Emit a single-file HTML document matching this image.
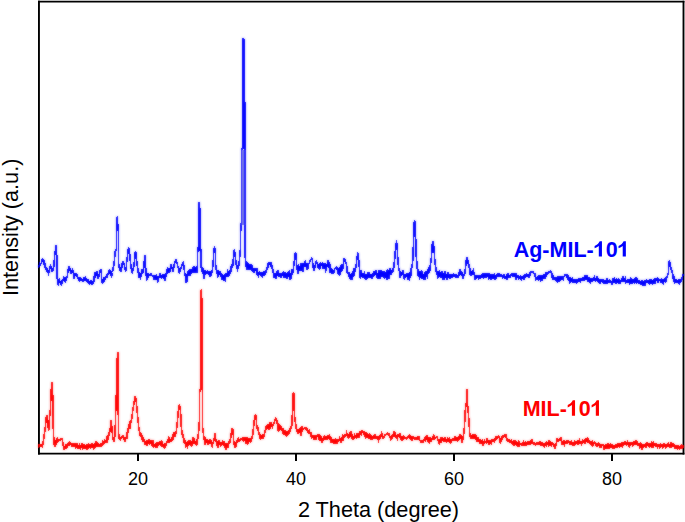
<!DOCTYPE html>
<html><head><meta charset="utf-8"><style>
html,body{margin:0;padding:0;background:#fff;}
svg{display:block;}
text{font-family:"Liberation Sans",sans-serif;}
</style></head><body>
<svg width="685" height="522" viewBox="0 0 685 522">
<defs><filter id="bl" x="-5%" y="-5%" width="110%" height="110%"><feGaussianBlur stdDeviation="0.8" result="b"/><feComposite in="SourceGraphic" in2="b" operator="arithmetic" k1="0" k2="0.5" k3="0.5" k4="0"/></filter></defs>
<rect width="685" height="522" fill="#fff"/>
<g stroke="#000" fill="none">
<line x1="38" y1="1.6" x2="684.4" y2="1.6" stroke-width="1.75"/>
<line x1="38" y1="453.66" x2="684.4" y2="453.66" stroke-width="1.82"/>
<line x1="38.95" y1="0.7" x2="38.95" y2="454.57" stroke-width="1.9"/>
<line x1="683.5" y1="0.7" x2="683.5" y2="454.57" stroke-width="1.86"/>
</g>
<g stroke="#000" stroke-width="2">
<line x1="138" y1="454" x2="138" y2="461"/>
<line x1="296" y1="454" x2="296" y2="461"/>
<line x1="454" y1="454" x2="454" y2="461"/>
<line x1="612" y1="454" x2="612" y2="461"/>
</g>
<g filter="url(#bl)">
<polyline fill="none" shape-rendering="crispEdges" stroke="#0000ff" stroke-width="1.6" stroke-linejoin="round" points="38.5,266.0 38.6,266.2 38.8,267.2 38.9,266.5 39.0,265.8 39.2,265.0 39.3,265.1 39.5,266.4 39.6,262.4 39.8,265.8 40.0,265.6 40.1,264.6 40.3,264.1 40.4,263.9 40.6,263.7 40.7,264.0 40.9,263.9 41.1,263.4 41.2,263.0 41.4,263.2 41.5,262.2 41.7,261.6 41.8,261.7 42.0,260.4 42.1,259.9 42.3,259.6 42.4,259.7 42.6,259.2 42.7,259.2 42.9,259.7 43.0,259.7 43.2,260.1 43.3,259.9 43.5,259.8 43.6,259.9 43.8,261.1 43.9,262.3 44.1,263.4 44.2,264.9 44.4,264.5 44.5,265.9 44.7,265.2 44.8,266.0 45.0,263.7 45.1,267.7 45.2,266.3 45.4,267.0 45.6,269.0 45.7,268.2 45.9,268.4 46.0,269.5 46.2,269.1 46.3,269.5 46.5,267.8 46.7,269.5 46.8,269.6 47.0,270.9 47.1,269.7 47.3,270.4 47.4,268.7 47.6,270.6 47.8,270.8 47.9,271.1 48.0,270.8 48.2,273.0 48.4,272.4 48.5,273.0 48.6,275.0 48.8,272.1 49.0,271.6 49.1,271.1 49.2,270.7 49.4,268.8 49.6,269.1 49.7,268.7 49.8,267.8 50.0,267.2 50.1,266.2 50.3,266.4 50.4,265.1 50.5,265.5 50.7,266.2 50.8,266.6 51.0,267.5 51.1,267.8 51.3,267.9 51.4,268.7 51.6,269.8 51.7,270.9 51.9,270.7 52.0,269.7 52.2,268.8 52.3,269.2 52.5,271.7 52.6,270.5 52.8,270.6 52.9,269.2 53.1,270.7 53.2,269.2 53.4,268.5 53.5,267.7 53.7,267.2 53.8,266.8 53.9,264.6 54.1,262.1 54.2,261.1 54.4,258.7 54.5,256.7 54.6,255.9 54.8,254.9 54.9,254.3 55.1,252.5 55.2,252.4 55.3,250.8 55.5,249.1 55.6,247.6 55.7,246.1 55.8,246.6 56.0,246.1 56.1,246.1 56.2,250.2 56.4,254.4 56.5,254.9 56.6,256.4 56.8,255.5 56.9,256.3 57.0,266.8 57.1,277.3 57.2,278.3 57.4,279.0 57.5,280.0 57.7,281.0 57.8,282.1 58.0,282.3 58.1,283.5 58.3,284.8 58.4,280.2 58.6,283.3 58.7,283.2 58.9,281.1 59.0,281.8 59.2,282.4 59.3,278.6 59.5,281.1 59.6,281.6 59.8,282.3 60.0,281.8 60.1,282.5 60.2,281.7 60.4,281.8 60.5,282.5 60.7,282.2 60.9,283.0 61.0,283.5 61.2,284.9 61.3,282.9 61.5,282.1 61.6,281.5 61.8,283.5 61.9,281.2 62.1,283.5 62.2,280.6 62.4,280.2 62.6,280.1 62.7,281.1 62.9,280.3 63.0,279.7 63.2,279.3 63.3,280.4 63.5,278.9 63.7,280.4 63.8,277.2 64.0,278.5 64.1,278.5 64.3,278.3 64.5,280.3 64.6,278.1 64.8,279.6 64.9,279.4 65.0,279.7 65.2,279.7 65.3,281.9 65.5,279.5 65.6,279.8 65.8,280.2 66.0,279.1 66.1,277.5 66.3,278.3 66.4,279.9 66.6,279.0 66.7,276.5 66.9,277.4 67.0,276.8 67.2,276.4 67.4,275.3 67.5,274.2 67.7,273.1 67.8,272.2 68.0,270.9 68.1,269.9 68.3,268.8 68.4,267.6 68.6,266.6 68.7,266.3 68.9,266.9 69.0,267.2 69.2,267.5 69.3,267.6 69.5,267.3 69.6,267.8 69.8,268.8 69.9,269.3 70.1,270.0 70.2,270.3 70.4,271.3 70.5,271.1 70.7,271.7 70.8,272.2 71.0,273.5 71.2,272.7 71.3,272.5 71.5,272.0 71.6,272.6 71.8,270.3 72.0,272.2 72.1,270.9 72.3,271.9 72.4,268.8 72.6,270.7 72.7,272.5 72.9,270.6 73.1,271.3 73.2,272.7 73.4,272.9 73.5,273.5 73.7,273.2 73.8,274.7 74.0,273.3 74.1,276.7 74.2,278.7 74.4,277.3 74.6,277.9 74.7,274.7 74.9,275.9 75.0,275.5 75.2,274.3 75.3,275.3 75.5,275.5 75.6,274.0 75.8,274.0 75.9,275.3 76.1,275.2 76.2,273.6 76.4,275.5 76.5,276.3 76.7,274.6 76.8,275.7 77.0,276.0 77.1,276.2 77.3,274.9 77.4,276.4 77.6,277.0 77.7,277.3 77.9,278.2 78.0,278.5 78.2,277.7 78.3,278.8 78.5,279.8 78.6,280.3 78.8,278.5 78.9,279.7 79.1,277.3 79.2,279.9 79.4,278.9 79.5,279.6 79.7,281.3 79.8,279.2 80.0,278.9 80.2,279.3 80.3,279.6 80.5,278.0 80.6,279.0 80.8,279.2 81.0,278.3 81.1,279.8 81.3,280.5 81.4,279.6 81.6,279.8 81.8,280.2 81.9,279.6 82.1,279.9 82.2,280.3 82.4,280.7 82.5,279.5 82.7,281.1 82.9,281.4 83.0,280.7 83.2,279.9 83.3,278.6 83.5,280.4 83.7,278.5 83.8,278.3 84.0,278.0 84.1,277.4 84.3,279.9 84.5,277.8 84.6,277.7 84.8,278.7 84.9,277.8 85.1,277.3 85.3,276.9 85.4,277.9 85.6,279.6 85.7,278.6 85.9,279.6 86.0,278.3 86.2,280.4 86.3,281.0 86.5,280.7 86.7,281.6 86.8,281.1 87.0,280.6 87.1,279.2 87.3,280.9 87.5,281.5 87.6,280.2 87.8,280.5 87.9,281.1 88.1,281.6 88.2,282.3 88.4,281.1 88.6,280.1 88.7,280.5 88.9,282.1 89.0,281.7 89.2,282.0 89.3,284.4 89.5,283.3 89.6,282.6 89.8,282.4 89.9,281.7 90.1,282.2 90.2,281.2 90.4,282.1 90.6,282.8 90.7,282.9 90.9,282.9 91.0,282.5 91.2,282.4 91.3,282.6 91.5,280.7 91.6,283.9 91.8,283.1 92.0,283.1 92.1,282.7 92.3,282.8 92.4,283.1 92.6,282.3 92.7,283.3 92.9,283.8 93.0,282.0 93.2,282.1 93.4,280.3 93.5,281.1 93.7,282.6 93.8,278.0 94.0,278.7 94.1,278.3 94.2,278.2 94.4,274.8 94.5,273.8 94.7,274.4 94.9,277.1 95.0,273.1 95.2,273.3 95.3,274.2 95.5,273.9 95.7,274.5 95.8,273.1 96.0,275.2 96.1,273.1 96.3,274.3 96.4,272.0 96.6,273.5 96.8,273.8 96.9,271.9 97.1,274.1 97.2,274.4 97.4,275.5 97.5,275.3 97.7,274.0 97.9,278.8 98.0,277.6 98.2,278.1 98.3,276.4 98.5,277.3 98.7,276.6 98.8,275.9 99.0,275.1 99.1,274.2 99.3,274.1 99.5,273.2 99.6,272.7 99.8,272.5 99.9,271.6 100.1,270.8 100.2,270.4 100.4,269.7 100.5,269.5 100.7,269.6 100.8,269.4 101.0,269.5 101.1,269.4 101.2,271.8 101.4,274.1 101.5,276.4 101.7,278.8 101.8,281.1 102.0,282.1 102.1,280.1 102.2,279.8 102.4,279.6 102.5,283.2 102.7,282.3 102.8,279.9 103.0,282.6 103.1,279.6 103.3,280.2 103.5,280.1 103.6,280.0 103.8,281.3 103.9,277.7 104.1,279.3 104.2,279.7 104.4,277.8 104.5,278.7 104.7,279.2 104.9,278.8 105.0,279.7 105.2,278.9 105.3,278.8 105.5,278.2 105.6,277.8 105.8,278.0 105.9,277.1 106.1,276.4 106.2,276.8 106.4,275.8 106.5,275.2 106.7,276.6 106.8,275.0 107.0,277.3 107.1,275.9 107.3,275.3 107.4,277.2 107.6,275.4 107.8,274.7 107.9,274.4 108.1,273.6 108.2,274.0 108.4,273.0 108.5,272.6 108.7,271.8 108.9,271.6 109.0,271.0 109.2,270.5 109.3,270.4 109.5,269.4 109.7,270.2 109.8,271.1 110.0,272.0 110.1,273.0 110.2,273.5 110.4,274.4 110.6,274.8 110.7,273.9 110.9,274.8 111.0,275.4 111.2,273.3 111.3,275.5 111.5,272.3 111.6,277.2 111.8,275.2 111.9,275.4 112.1,274.4 112.2,274.2 112.4,272.9 112.5,272.5 112.7,269.7 112.8,270.4 113.0,269.6 113.1,270.3 113.3,267.8 113.4,264.9 113.6,266.1 113.7,265.6 113.9,264.6 114.0,262.1 114.2,263.0 114.3,262.0 114.5,260.0 114.6,258.1 114.8,256.9 114.9,254.4 115.0,252.8 115.2,251.0 115.4,251.4 115.5,251.2 115.7,250.7 115.8,251.2 116.0,250.2 116.1,250.4 116.3,250.0 116.4,240.3 116.6,230.0 116.8,230.1 116.9,229.8 117.0,229.1 117.2,229.0 117.2,217.2 117.3,217.3 117.5,217.2 117.6,217.2 117.7,223.2 117.8,229.0 117.9,229.3 118.0,229.9 118.2,231.1 118.3,231.0 118.4,250.0 118.6,256.9 118.7,263.7 118.8,264.5 119.0,265.9 119.2,266.5 119.3,267.5 119.4,268.9 119.6,269.1 119.7,268.6 119.9,269.6 120.0,267.3 120.2,269.8 120.3,270.4 120.4,271.6 120.6,270.8 120.7,270.9 120.9,271.3 121.0,271.5 121.2,271.4 121.3,271.4 121.5,270.2 121.6,268.9 121.8,267.7 121.9,266.4 122.0,265.2 122.2,264.2 122.3,262.8 122.5,261.6 122.7,261.7 122.8,261.8 123.0,262.1 123.1,262.7 123.2,262.7 123.4,262.4 123.5,262.5 123.7,262.8 123.9,263.9 124.0,264.3 124.2,265.1 124.3,265.3 124.5,266.8 124.6,267.1 124.8,267.9 124.9,268.5 125.1,269.4 125.2,269.4 125.4,270.7 125.5,270.9 125.7,270.0 125.8,270.9 126.0,270.4 126.1,268.7 126.3,267.0 126.4,265.5 126.6,263.6 126.7,262.1 126.9,260.7 127.0,258.9 127.1,257.9 127.3,256.7 127.4,255.8 127.6,254.8 127.7,253.7 127.8,252.5 128.0,251.2 128.1,250.2 128.3,248.9 128.4,247.8 128.5,248.1 128.7,248.2 128.8,248.5 129.0,248.5 129.1,248.9 129.3,249.2 129.4,249.4 129.6,251.5 129.7,253.5 129.9,255.9 130.0,257.8 130.2,259.9 130.3,261.0 130.5,262.2 130.6,263.1 130.8,264.9 130.9,266.5 131.1,267.5 131.2,268.5 131.4,267.7 131.6,267.9 131.7,269.2 131.8,270.9 132.0,270.7 132.2,273.0 132.3,271.8 132.5,271.7 132.6,271.1 132.8,271.1 132.9,270.5 133.1,269.1 133.2,268.3 133.4,268.3 133.5,268.0 133.7,267.5 133.8,266.2 134.0,265.0 134.1,263.8 134.3,262.5 134.4,261.3 134.6,260.1 134.7,258.9 134.8,257.1 135.0,255.7 135.2,253.5 135.3,252.1 135.5,252.2 135.6,252.6 135.8,253.3 135.9,252.8 136.1,254.1 136.2,255.7 136.4,257.2 136.5,258.9 136.6,260.6 136.8,262.0 136.9,263.7 137.1,264.7 137.2,265.5 137.4,266.5 137.5,267.8 137.7,268.1 137.8,269.4 138.0,272.0 138.1,272.4 138.2,272.0 138.4,270.0 138.6,273.4 138.7,274.0 138.8,275.2 139.0,275.2 139.2,274.5 139.3,277.7 139.5,277.0 139.6,274.1 139.8,275.2 139.9,273.1 140.1,277.0 140.2,277.8 140.4,276.1 140.6,279.3 140.7,275.7 140.9,275.6 141.0,275.3 141.2,274.7 141.3,276.6 141.5,274.2 141.6,273.2 141.8,273.3 142.0,273.1 142.1,269.6 142.2,273.3 142.4,273.0 142.6,272.2 142.7,273.4 142.9,272.7 143.0,271.4 143.2,269.7 143.3,271.4 143.5,269.9 143.6,268.5 143.8,267.1 143.9,265.7 144.0,264.4 144.2,262.8 144.3,261.3 144.5,259.9 144.6,258.4 144.8,256.9 144.9,255.3 145.1,257.9 145.2,260.2 145.3,263.1 145.5,265.6 145.7,267.5 145.8,269.3 145.9,271.4 146.1,273.3 146.2,275.1 146.4,277.1 146.5,276.8 146.7,280.0 146.8,277.6 147.0,279.2 147.1,279.0 147.2,277.2 147.4,279.1 147.5,276.2 147.7,277.2 147.8,274.0 148.0,276.4 148.2,277.1 148.3,273.6 148.4,274.3 148.6,274.5 148.8,274.7 148.9,274.6 149.1,274.4 149.2,274.7 149.4,274.6 149.5,274.9 149.7,274.5 149.9,274.8 150.0,274.7 150.2,274.9 150.3,274.6 150.5,274.9 150.7,274.9 150.8,274.7 151.0,274.0 151.1,275.5 151.3,275.0 151.4,274.6 151.6,274.9 151.8,275.2 151.9,275.1 152.1,275.4 152.2,276.0 152.4,275.8 152.5,275.9 152.7,276.1 152.9,276.0 153.0,276.5 153.2,276.7 153.3,276.8 153.5,276.7 153.6,277.5 153.8,277.7 154.0,276.8 154.1,278.4 154.3,279.7 154.4,277.1 154.6,277.9 154.7,277.7 154.9,275.7 155.1,276.2 155.2,279.2 155.4,277.6 155.5,278.7 155.7,275.6 155.8,277.9 156.0,277.7 156.2,279.2 156.3,279.3 156.4,274.3 156.6,278.2 156.8,277.9 156.9,279.1 157.1,276.4 157.2,277.9 157.3,279.7 157.5,278.7 157.7,278.8 157.8,281.9 157.9,278.6 158.1,279.2 158.3,278.1 158.4,278.3 158.6,277.6 158.7,277.1 158.9,277.1 159.0,277.3 159.2,276.3 159.4,275.9 159.5,275.3 159.7,275.1 159.8,274.8 160.0,274.2 160.1,274.0 160.3,273.4 160.5,274.0 160.6,274.3 160.8,275.3 160.9,275.8 161.1,276.2 161.2,277.2 161.4,277.7 161.6,278.6 161.7,276.1 161.8,277.4 162.0,277.9 162.2,276.9 162.3,276.4 162.4,276.6 162.6,276.9 162.8,277.1 162.9,276.7 163.0,274.8 163.2,276.3 163.4,277.5 163.5,278.6 163.7,275.1 163.8,276.2 164.0,276.0 164.1,278.5 164.3,279.2 164.5,275.0 164.6,277.3 164.8,276.9 164.9,278.0 165.1,280.1 165.2,276.3 165.4,278.5 165.6,276.6 165.7,277.0 165.8,276.4 166.0,276.3 166.2,274.7 166.3,272.8 166.5,273.0 166.6,276.2 166.8,272.7 166.9,271.2 167.1,269.7 167.2,272.2 167.3,270.7 167.5,272.1 167.7,267.5 167.8,272.6 168.0,270.0 168.1,271.1 168.2,271.6 168.4,271.2 168.6,271.3 168.7,270.2 168.9,270.1 169.0,270.9 169.2,269.2 169.3,270.8 169.5,270.3 169.6,271.7 169.8,271.9 170.0,270.8 170.1,269.8 170.3,268.7 170.4,267.5 170.6,266.7 170.7,265.7 170.9,264.6 171.1,265.0 171.2,265.6 171.3,266.4 171.5,266.6 171.7,267.6 171.8,268.2 172.0,268.1 172.1,268.9 172.2,269.0 172.4,269.7 172.6,268.1 172.7,269.1 172.9,269.3 173.0,271.0 173.2,267.3 173.3,269.0 173.5,268.2 173.7,267.5 173.8,266.6 174.0,267.0 174.1,265.8 174.3,264.6 174.4,264.8 174.6,263.3 174.7,262.6 174.9,262.4 175.0,262.0 175.2,262.4 175.3,260.8 175.5,261.7 175.6,261.0 175.8,260.2 175.9,260.5 176.1,260.1 176.2,259.9 176.3,260.4 176.5,261.1 176.6,261.6 176.8,262.9 176.9,262.3 177.1,263.1 177.2,263.9 177.4,264.2 177.5,265.1 177.7,265.9 177.8,267.0 178.0,266.5 178.2,267.2 178.3,268.4 178.4,269.0 178.6,269.0 178.7,269.8 178.9,271.4 179.0,271.6 179.2,272.4 179.3,273.4 179.5,273.6 179.6,272.3 179.8,271.7 179.9,271.0 180.1,270.6 180.2,268.9 180.4,267.6 180.5,270.0 180.7,268.9 180.8,268.2 181.0,267.9 181.1,267.6 181.3,266.8 181.4,266.4 181.6,266.0 181.7,265.7 181.9,265.6 182.0,264.9 182.2,264.6 182.4,264.1 182.5,264.0 182.7,263.2 182.8,262.7 183.0,262.9 183.1,262.6 183.3,262.1 183.5,263.2 183.6,264.5 183.8,265.4 183.9,266.8 184.1,268.0 184.2,269.2 184.4,270.4 184.6,271.3 184.7,272.6 184.9,273.6 185.0,274.2 185.2,275.8 185.3,276.1 185.5,277.7 185.6,280.9 185.8,277.4 185.9,277.9 186.1,277.9 186.2,279.2 186.3,282.5 186.5,277.9 186.6,278.3 186.8,281.4 186.9,279.8 187.1,274.4 187.2,276.7 187.4,276.5 187.5,276.4 187.7,275.5 187.8,274.9 188.0,274.7 188.1,271.3 188.3,272.0 188.4,274.7 188.6,272.5 188.8,273.3 188.9,273.7 189.1,271.9 189.2,270.8 189.3,275.6 189.5,273.4 189.7,273.2 189.8,272.3 190.0,273.8 190.1,269.5 190.3,272.4 190.4,275.7 190.6,274.7 190.8,273.3 190.9,271.1 191.1,272.4 191.2,269.7 191.4,271.8 191.5,269.5 191.7,272.6 191.8,270.8 192.0,272.2 192.1,269.8 192.3,269.9 192.4,272.5 192.6,270.0 192.8,269.6 192.9,267.8 193.1,270.2 193.2,269.4 193.3,268.7 193.5,268.2 193.7,268.8 193.8,267.1 193.9,268.4 194.1,269.6 194.2,272.2 194.4,271.1 194.6,270.6 194.7,270.6 194.8,267.2 195.0,271.2 195.2,272.6 195.3,268.8 195.4,269.3 195.6,271.1 195.8,271.5 195.9,271.2 196.0,270.0 196.2,270.0 196.4,268.7 196.5,266.8 196.7,270.6 196.8,272.4 197.0,268.2 197.1,270.1 197.3,268.5 197.4,262.9 197.6,257.4 197.7,252.0 197.8,251.6 198.0,247.6 198.2,250.7 198.3,250.5 198.3,209.0 198.5,207.9 198.6,209.3 198.8,208.6 198.9,208.5 198.9,203.1 199.0,203.4 199.2,203.5 199.3,202.9 199.4,203.1 199.5,208.5 199.6,208.1 199.8,211.0 199.9,209.0 199.9,250.0 200.0,250.2 200.2,248.7 200.3,248.1 200.5,254.5 200.6,251.3 200.8,249.0 200.9,251.5 201.0,259.5 201.1,267.5 201.3,267.8 201.4,268.0 201.6,270.9 201.7,271.2 201.9,267.6 202.0,268.2 202.2,269.5 202.3,271.2 202.5,270.7 202.6,271.3 202.8,271.0 202.9,271.7 203.1,271.0 203.2,273.5 203.4,269.2 203.5,273.9 203.7,272.9 203.8,274.3 204.0,278.0 204.1,275.3 204.3,275.2 204.4,272.7 204.6,274.7 204.7,275.1 204.9,272.2 205.0,273.7 205.2,270.7 205.3,274.2 205.5,273.6 205.6,273.8 205.8,273.6 206.0,273.2 206.1,273.2 206.3,272.6 206.4,273.1 206.6,273.1 206.7,272.2 206.9,271.9 207.0,272.0 207.2,271.3 207.3,271.4 207.5,270.9 207.6,271.2 207.8,271.9 207.9,272.0 208.1,272.6 208.2,273.4 208.4,272.7 208.5,274.0 208.7,274.1 208.8,274.5 209.0,274.1 209.1,273.8 209.3,272.0 209.4,273.2 209.6,274.0 209.7,271.9 209.9,273.9 210.0,276.0 210.2,276.5 210.3,274.5 210.5,272.8 210.7,273.7 210.8,271.6 211.0,275.5 211.1,271.5 211.3,273.8 211.4,273.8 211.6,272.5 211.7,272.2 211.9,271.1 212.0,272.0 212.2,271.9 212.3,270.4 212.5,268.9 212.6,267.6 212.8,267.0 212.9,266.0 213.1,264.1 213.2,261.4 213.4,258.7 213.6,256.3 213.7,253.7 213.8,251.1 214.0,248.6 214.2,248.3 214.3,247.9 214.4,247.5 214.6,247.2 214.7,247.8 214.9,248.9 215.0,249.5 215.2,250.4 215.3,251.2 215.4,255.8 215.6,260.5 215.7,265.0 215.8,265.8 216.0,267.2 216.1,267.8 216.3,269.5 216.4,269.9 216.6,271.0 216.8,271.4 216.9,273.3 217.1,272.8 217.2,271.0 217.3,271.8 217.5,277.3 217.7,271.1 217.8,274.5 218.0,273.8 218.1,276.8 218.2,270.4 218.4,272.7 218.6,272.9 218.7,271.8 218.8,273.4 219.0,273.6 219.2,272.8 219.3,271.5 219.4,274.0 219.6,272.8 219.8,274.0 219.9,273.4 220.1,272.1 220.2,273.8 220.4,274.3 220.5,274.0 220.7,275.8 220.8,274.4 221.0,274.9 221.1,273.5 221.3,275.3 221.5,275.5 221.6,276.3 221.8,276.2 221.9,274.9 222.1,279.4 222.2,276.4 222.4,275.7 222.5,275.8 222.7,276.9 222.8,275.0 223.0,276.2 223.1,276.8 223.3,277.4 223.4,277.1 223.6,278.8 223.7,277.6 223.9,277.9 224.0,277.6 224.2,280.4 224.3,278.8 224.5,278.1 224.6,278.8 224.8,277.9 224.9,280.0 225.1,280.0 225.2,274.4 225.4,280.8 225.5,277.2 225.7,274.7 225.8,276.4 226.0,276.2 226.2,273.6 226.3,275.9 226.4,274.5 226.6,275.0 226.8,274.6 226.9,275.1 227.1,275.8 227.2,276.6 227.4,273.8 227.5,274.2 227.7,270.1 227.8,273.6 228.0,273.3 228.1,276.3 228.3,272.1 228.4,275.0 228.6,274.0 228.7,273.0 228.9,274.5 229.0,273.0 229.2,275.2 229.3,271.7 229.5,273.6 229.7,271.6 229.8,273.4 230.0,272.1 230.1,270.4 230.3,271.3 230.4,270.2 230.6,270.4 230.7,270.5 230.9,270.7 231.0,266.6 231.2,268.4 231.4,268.2 231.5,271.2 231.7,267.1 231.8,267.6 232.0,264.7 232.1,267.5 232.3,265.9 232.4,266.8 232.6,265.8 232.7,265.9 232.9,264.1 233.1,261.8 233.2,259.8 233.4,257.6 233.5,255.5 233.7,253.3 233.8,251.2 233.9,251.1 234.1,251.1 234.2,251.4 234.4,249.8 234.5,250.7 234.6,251.7 234.8,252.8 234.9,254.0 235.0,255.0 235.2,256.1 235.3,257.2 235.5,258.5 235.6,259.7 235.8,260.9 235.9,262.0 236.1,263.4 236.2,264.8 236.4,265.9 236.5,266.6 236.7,264.5 236.8,267.2 237.0,267.6 237.1,268.5 237.3,269.0 237.4,269.3 237.6,271.3 237.7,267.9 237.9,267.6 238.0,267.6 238.2,268.4 238.3,266.9 238.5,265.9 238.7,265.0 238.8,265.2 238.9,263.3 239.1,265.2 239.2,261.0 239.4,260.7 239.6,258.5 239.7,257.5 239.9,255.2 240.0,253.9 240.2,251.9 240.3,250.0 240.4,244.0 240.6,237.4 240.7,232.3 240.8,226.0 241.0,223.4 241.1,227.8 241.2,226.0 241.4,224.0 241.4,150.0 241.6,149.4 241.7,148.3 241.9,151.2 242.0,149.5 242.2,148.0 242.3,149.3 242.5,148.5 242.6,148.9 242.8,149.0 242.8,38.8 243.0,38.8 243.1,39.2 243.2,39.0 243.4,38.5 243.5,38.7 243.7,38.8 243.7,101.0 243.9,101.1 244.0,102.2 244.2,101.0 244.3,101.6 244.5,102.2 244.6,101.8 244.8,102.0 244.8,250.0 244.9,252.0 245.1,254.4 245.2,256.5 245.3,257.9 245.5,260.2 245.6,260.6 245.8,262.4 245.9,264.2 246.1,263.1 246.2,266.3 246.4,265.9 246.5,268.9 246.7,268.0 246.9,269.3 247.0,269.5 247.2,266.3 247.3,263.0 247.5,266.1 247.6,268.8 247.8,265.7 248.0,266.6 248.1,263.8 248.3,266.7 248.4,268.2 248.6,269.3 248.8,267.2 248.9,268.1 249.1,268.1 249.2,266.7 249.4,267.2 249.6,265.3 249.7,267.4 249.8,265.1 250.0,266.0 250.2,269.7 250.3,266.0 250.5,265.6 250.6,267.7 250.8,264.5 250.9,264.9 251.1,269.1 251.2,267.9 251.3,266.3 251.5,266.8 251.7,266.3 251.8,270.2 251.9,267.9 252.1,269.5 252.2,266.1 252.4,271.7 252.5,270.7 252.7,271.2 252.8,271.7 253.0,268.8 253.2,269.9 253.3,272.0 253.4,269.9 253.6,272.6 253.8,272.2 253.9,272.0 254.0,271.5 254.2,271.1 254.3,270.1 254.5,270.1 254.7,270.3 254.8,269.2 254.9,269.2 255.1,268.8 255.3,268.3 255.4,269.6 255.6,268.9 255.7,269.3 255.9,269.6 256.1,269.8 256.2,270.4 256.4,270.2 256.5,270.0 256.7,270.3 256.8,268.7 257.0,271.6 257.1,274.5 257.3,268.3 257.4,273.0 257.6,271.5 257.8,272.9 257.9,273.4 258.1,274.0 258.2,274.1 258.4,277.7 258.5,274.5 258.7,273.7 258.8,274.5 259.0,273.7 259.1,273.5 259.3,273.4 259.5,273.6 259.6,273.0 259.8,272.8 259.9,272.2 260.1,273.4 260.3,273.3 260.4,272.9 260.6,274.7 260.7,274.8 260.9,273.2 261.0,274.0 261.2,275.4 261.3,273.4 261.5,273.9 261.6,273.7 261.8,274.3 261.9,276.6 262.1,272.7 262.2,276.9 262.4,274.1 262.6,274.5 262.7,275.0 262.9,274.4 263.0,275.5 263.2,273.7 263.4,274.7 263.5,273.4 263.7,274.1 263.8,274.6 264.0,273.1 264.1,271.9 264.3,274.1 264.5,274.9 264.6,274.8 264.8,274.1 264.9,273.0 265.1,273.7 265.3,271.3 265.4,273.5 265.6,273.1 265.7,273.0 265.9,272.6 266.0,272.0 266.2,270.8 266.3,271.9 266.5,270.7 266.6,271.0 266.8,269.5 266.9,267.6 267.1,269.0 267.2,268.8 267.4,268.0 267.6,269.4 267.7,268.5 267.9,264.1 268.0,266.7 268.2,264.6 268.3,265.3 268.5,264.2 268.6,263.9 268.8,263.6 268.9,263.4 269.0,263.2 269.2,263.0 269.3,262.6 269.4,263.1 269.6,263.5 269.8,263.7 269.9,264.3 270.1,264.5 270.2,265.0 270.4,265.3 270.5,265.7 270.6,266.0 270.8,262.5 270.9,266.1 271.1,265.4 271.2,266.2 271.4,264.6 271.6,267.1 271.7,268.5 271.9,266.7 272.0,267.2 272.2,266.2 272.3,268.8 272.5,267.7 272.6,271.4 272.8,269.0 272.9,270.8 273.1,271.8 273.2,272.2 273.4,271.1 273.6,272.5 273.7,272.7 273.9,274.3 274.0,277.8 274.2,274.2 274.3,274.9 274.4,275.9 274.6,273.7 274.8,275.3 274.9,275.1 275.1,274.7 275.2,276.5 275.4,276.2 275.5,274.2 275.7,275.1 275.8,275.7 275.9,276.3 276.1,278.4 276.2,274.5 276.4,275.2 276.6,276.9 276.7,273.5 276.9,272.6 277.0,271.8 277.1,271.3 277.3,272.1 277.4,273.0 277.6,275.1 277.8,272.8 277.9,273.4 278.1,270.7 278.2,274.8 278.4,274.5 278.5,274.9 278.6,275.9 278.8,274.3 278.9,275.5 279.1,275.7 279.2,275.2 279.4,274.4 279.6,275.2 279.7,276.2 279.9,274.6 280.0,275.7 280.1,273.8 280.3,275.5 280.4,274.7 280.6,276.4 280.7,276.4 280.9,277.6 281.0,276.4 281.2,275.5 281.3,274.0 281.5,276.1 281.6,274.9 281.8,275.4 281.9,275.3 282.1,275.0 282.2,275.4 282.4,273.6 282.5,274.4 282.7,273.9 282.8,273.3 283.0,273.1 283.1,273.4 283.2,272.2 283.4,273.5 283.6,273.3 283.7,273.5 283.9,275.0 284.0,274.3 284.2,274.4 284.3,277.6 284.5,273.2 284.6,274.1 284.8,274.3 284.9,272.6 285.1,274.3 285.2,277.2 285.4,273.1 285.6,275.8 285.7,276.6 285.9,275.4 286.0,276.5 286.2,275.7 286.3,275.4 286.5,275.0 286.6,275.2 286.8,274.1 286.9,274.4 287.1,274.2 287.2,278.3 287.4,274.0 287.6,273.4 287.7,274.1 287.8,276.2 288.0,272.5 288.1,276.5 288.3,274.8 288.4,273.7 288.6,273.0 288.8,272.1 288.9,271.3 289.1,271.1 289.2,272.6 289.3,272.8 289.5,273.5 289.6,276.3 289.8,275.0 289.9,279.2 290.1,276.7 290.2,275.3 290.4,277.2 290.5,277.0 290.7,275.4 290.8,273.6 291.0,278.3 291.1,275.2 291.3,274.3 291.4,273.3 291.6,275.1 291.8,274.3 291.9,274.1 292.0,270.1 292.2,274.3 292.4,272.8 292.5,274.2 292.6,273.1 292.8,273.1 293.0,272.7 293.1,272.6 293.3,271.3 293.4,270.9 293.6,268.6 293.7,266.2 293.9,265.5 294.0,263.8 294.2,262.6 294.3,261.1 294.5,259.8 294.6,258.4 294.8,257.4 294.9,255.8 295.1,254.5 295.2,253.1 295.3,253.4 295.5,253.3 295.6,253.6 295.7,253.8 295.9,253.9 296.0,254.2 296.1,256.5 296.2,258.9 296.4,260.9 296.5,263.4 296.6,264.3 296.8,265.7 296.9,267.0 297.1,268.1 297.2,269.4 297.4,269.8 297.6,271.1 297.7,272.6 297.9,271.3 298.0,270.4 298.2,271.1 298.3,273.6 298.5,269.3 298.6,264.8 298.8,267.2 298.9,266.8 299.1,268.7 299.2,270.0 299.4,268.3 299.6,267.8 299.7,268.0 299.9,269.0 300.0,268.8 300.1,270.1 300.3,267.7 300.4,266.7 300.6,263.3 300.8,265.7 300.9,268.4 301.1,267.0 301.2,270.6 301.4,263.6 301.5,265.7 301.6,265.5 301.8,267.3 301.9,266.9 302.1,264.1 302.2,266.6 302.4,267.5 302.6,267.9 302.7,267.4 302.9,266.6 303.0,268.0 303.1,271.1 303.3,267.3 303.4,267.9 303.6,267.0 303.7,264.3 303.9,265.4 304.0,263.4 304.2,264.5 304.3,264.3 304.5,264.9 304.6,264.9 304.8,264.4 304.9,264.7 305.1,266.4 305.2,261.2 305.4,263.3 305.5,266.6 305.7,265.6 305.8,265.4 306.0,264.8 306.1,265.7 306.2,266.1 306.4,265.2 306.6,268.2 306.7,268.2 306.9,266.6 307.0,263.5 307.2,269.7 307.3,268.0 307.4,266.9 307.6,267.7 307.8,268.5 307.9,267.7 308.1,267.8 308.2,265.7 308.4,266.9 308.5,264.9 308.7,263.7 308.8,264.2 308.9,263.7 309.1,263.1 309.2,263.1 309.4,262.7 309.6,261.5 309.7,261.1 309.9,260.9 310.0,260.5 310.2,260.9 310.3,259.6 310.5,260.3 310.6,260.4 310.8,259.7 310.9,259.6 311.1,259.2 311.2,259.3 311.4,258.2 311.6,259.7 311.7,259.1 311.9,258.6 312.0,259.0 312.2,259.1 312.3,260.2 312.5,261.4 312.6,262.1 312.8,263.5 312.9,264.8 313.1,265.9 313.2,266.9 313.4,268.0 313.6,268.4 313.7,267.3 313.9,270.5 314.0,269.9 314.2,269.1 314.3,267.8 314.5,269.5 314.6,268.4 314.8,267.9 314.9,267.1 315.1,265.7 315.2,265.6 315.4,264.9 315.5,263.9 315.7,263.3 315.8,262.4 316.0,261.7 316.1,261.1 316.3,261.5 316.4,261.7 316.6,261.7 316.7,262.7 316.9,262.7 317.0,263.0 317.2,263.4 317.3,264.2 317.5,264.8 317.6,265.5 317.8,266.0 317.9,266.4 318.1,267.0 318.2,267.0 318.4,268.0 318.5,268.7 318.7,267.1 318.8,267.1 319.0,266.1 319.1,267.7 319.3,263.6 319.4,268.5 319.6,268.9 319.8,269.1 319.9,268.0 320.0,265.9 320.2,267.8 320.3,268.6 320.5,263.2 320.6,265.2 320.8,265.3 320.9,265.7 321.1,264.1 321.2,265.3 321.4,264.9 321.5,264.5 321.7,265.5 321.8,265.2 322.0,265.8 322.1,264.3 322.3,266.1 322.4,266.3 322.6,266.3 322.7,262.9 322.9,268.6 323.0,265.7 323.1,266.1 323.3,265.2 323.4,266.0 323.6,266.3 323.8,266.5 323.9,265.7 324.1,265.9 324.2,266.5 324.4,268.2 324.5,267.2 324.6,267.2 324.8,264.1 324.9,267.5 325.1,266.6 325.2,263.3 325.4,272.3 325.6,267.6 325.7,268.6 325.9,268.2 326.0,268.8 326.1,265.4 326.3,270.3 326.4,270.5 326.6,266.0 326.7,266.8 326.9,266.3 327.0,264.8 327.2,266.5 327.3,266.7 327.5,266.2 327.6,264.9 327.8,265.6 327.9,260.7 328.1,264.3 328.2,265.6 328.4,266.4 328.5,265.5 328.7,265.9 328.8,267.7 329.0,262.2 329.1,266.5 329.2,265.9 329.4,266.2 329.6,271.9 329.7,266.4 329.9,264.5 330.0,267.6 330.2,268.6 330.3,266.7 330.5,270.1 330.6,268.8 330.8,267.9 330.9,270.3 331.1,268.4 331.2,272.3 331.4,269.5 331.6,271.9 331.7,273.0 331.9,270.9 332.0,269.9 332.2,272.6 332.3,272.9 332.5,272.6 332.6,272.5 332.8,273.7 332.9,272.5 333.1,272.6 333.2,272.6 333.4,272.5 333.6,272.3 333.7,272.6 333.8,271.8 334.0,271.5 334.1,271.0 334.3,270.5 334.4,270.6 334.6,269.3 334.8,269.1 334.9,268.9 335.1,268.3 335.2,268.0 335.3,267.7 335.5,267.7 335.6,267.7 335.8,267.8 335.9,268.5 336.1,267.8 336.2,267.3 336.4,267.2 336.5,267.5 336.7,267.8 336.8,267.9 337.0,269.3 337.1,268.1 337.3,268.8 337.4,269.5 337.6,269.8 337.8,269.8 337.9,270.3 338.0,273.3 338.2,270.5 338.4,271.3 338.5,269.0 338.6,273.5 338.8,269.6 339.0,271.6 339.1,272.2 339.2,274.0 339.4,274.8 339.6,273.9 339.7,272.9 339.9,270.2 340.0,267.3 340.2,270.7 340.3,267.9 340.5,273.9 340.6,270.3 340.8,265.4 340.9,269.4 341.1,268.6 341.2,265.0 341.4,269.5 341.5,266.9 341.7,271.4 341.8,269.7 342.0,268.5 342.1,268.8 342.2,269.8 342.4,268.9 342.6,266.5 342.7,268.1 342.9,268.6 343.0,265.7 343.2,264.3 343.3,264.2 343.4,263.5 343.6,262.7 343.7,261.6 343.8,260.7 344.0,260.1 344.1,259.1 344.3,259.4 344.4,259.2 344.6,259.7 344.7,259.6 344.9,260.6 345.0,260.0 345.2,260.3 345.3,260.4 345.5,260.2 345.6,261.3 345.8,263.0 345.9,262.0 346.1,262.6 346.2,264.0 346.4,263.4 346.5,263.2 346.7,265.6 346.8,267.5 347.0,267.6 347.1,269.5 347.2,272.6 347.4,272.0 347.6,269.3 347.7,271.7 347.9,272.1 348.0,273.1 348.2,272.3 348.3,273.4 348.4,273.2 348.6,272.7 348.8,273.1 348.9,272.6 349.1,276.4 349.2,276.3 349.4,274.0 349.5,275.3 349.7,274.7 349.8,274.9 349.9,274.3 350.1,274.8 350.2,279.1 350.4,275.1 350.6,276.1 350.7,279.0 350.9,275.5 351.0,276.4 351.1,277.5 351.3,273.9 351.4,276.6 351.6,276.8 351.8,276.8 351.9,279.1 352.1,275.5 352.2,278.7 352.4,273.5 352.5,274.1 352.6,274.1 352.8,272.8 352.9,271.5 353.1,273.6 353.2,274.5 353.4,274.8 353.6,269.0 353.7,276.5 353.9,272.5 354.0,273.4 354.1,272.1 354.3,273.7 354.4,273.8 354.6,272.0 354.8,270.0 354.9,269.8 355.1,270.9 355.2,268.8 355.4,267.7 355.5,268.8 355.7,267.9 355.8,266.1 356.0,267.6 356.1,264.5 356.3,264.2 356.4,263.0 356.6,261.7 356.7,260.3 356.8,259.1 357.0,257.8 357.1,256.5 357.3,255.8 357.4,254.6 357.6,255.6 357.7,254.7 357.9,253.1 358.0,253.9 358.2,255.6 358.3,256.5 358.5,257.5 358.6,258.8 358.8,260.7 358.9,262.5 359.1,264.4 359.2,266.3 359.4,268.0 359.5,269.6 359.7,270.1 359.8,273.0 359.9,274.3 360.1,276.4 360.2,277.2 360.4,276.0 360.5,277.7 360.7,278.1 360.8,275.4 361.0,275.3 361.1,274.7 361.3,274.9 361.4,270.3 361.6,274.2 361.8,274.8 361.9,273.4 362.1,276.7 362.2,275.6 362.4,276.1 362.5,275.3 362.7,275.8 362.8,276.4 363.0,277.1 363.1,275.9 363.3,276.0 363.4,275.3 363.6,275.4 363.8,277.2 363.9,273.9 364.1,274.6 364.2,275.0 364.4,274.1 364.5,272.0 364.7,278.2 364.8,275.0 365.0,274.4 365.1,276.6 365.3,277.3 365.4,276.7 365.6,279.0 365.8,274.6 365.9,277.2 366.0,277.0 366.2,277.6 366.3,278.9 366.5,276.7 366.6,276.4 366.8,275.5 366.9,275.8 367.1,275.5 367.2,277.4 367.4,274.9 367.5,276.5 367.7,276.0 367.8,277.8 368.0,272.7 368.1,276.6 368.3,275.6 368.4,276.8 368.6,275.3 368.7,276.0 368.9,277.7 369.0,276.4 369.1,272.7 369.3,275.4 369.4,275.9 369.6,277.4 369.8,274.8 369.9,276.9 370.1,274.4 370.2,274.5 370.4,275.2 370.5,274.9 370.7,275.5 370.8,277.1 371.0,277.2 371.1,274.5 371.3,276.4 371.4,276.1 371.6,275.4 371.8,277.0 371.9,278.2 372.1,276.1 372.2,278.7 372.4,276.4 372.5,274.2 372.7,274.2 372.8,276.4 373.0,274.4 373.1,274.9 373.3,274.3 373.4,272.3 373.6,274.6 373.7,274.2 373.9,271.3 374.0,272.6 374.1,271.9 374.3,274.1 374.4,275.4 374.6,275.0 374.8,273.4 374.9,273.1 375.1,273.5 375.2,272.4 375.4,273.9 375.5,274.1 375.7,273.0 375.8,272.5 376.0,273.6 376.1,271.1 376.3,273.7 376.4,274.4 376.6,274.2 376.8,277.7 376.9,275.6 377.1,273.9 377.2,275.6 377.4,273.4 377.6,273.4 377.7,275.0 377.9,273.2 378.0,274.2 378.2,278.7 378.4,274.8 378.5,274.8 378.7,276.1 378.8,274.5 379.0,276.8 379.1,271.1 379.3,275.7 379.5,274.6 379.6,274.0 379.8,274.4 379.9,278.2 380.1,270.9 380.2,274.2 380.4,275.0 380.6,275.3 380.7,275.6 380.9,274.0 381.0,273.1 381.2,274.1 381.3,275.6 381.5,271.9 381.6,270.9 381.8,272.5 381.9,273.4 382.1,276.2 382.2,274.0 382.4,273.2 382.5,272.9 382.7,273.4 382.8,272.6 382.9,273.3 383.1,272.7 383.2,271.3 383.4,272.6 383.6,275.3 383.7,274.9 383.9,276.0 384.0,271.8 384.2,277.6 384.3,275.7 384.5,275.3 384.6,278.2 384.8,275.9 384.9,275.7 385.1,276.9 385.3,275.9 385.4,276.1 385.6,273.9 385.7,275.8 385.9,275.0 386.1,272.9 386.2,273.6 386.4,275.3 386.5,274.5 386.7,275.3 386.9,276.2 387.0,273.2 387.2,270.2 387.3,279.6 387.5,274.1 387.7,274.6 387.8,273.3 388.0,273.2 388.1,273.9 388.3,275.3 388.4,270.6 388.6,275.4 388.8,278.5 388.9,273.8 389.1,273.1 389.2,272.4 389.4,273.3 389.6,271.9 389.7,272.6 389.9,274.8 390.0,268.4 390.2,274.2 390.3,273.6 390.5,268.6 390.6,270.3 390.8,273.8 390.9,273.5 391.1,272.2 391.2,274.5 391.4,271.6 391.5,272.5 391.7,270.7 391.8,273.1 392.0,272.6 392.2,269.9 392.3,270.5 392.5,272.5 392.6,271.1 392.8,271.3 392.9,271.3 393.1,270.4 393.2,268.4 393.4,270.0 393.5,267.0 393.7,268.6 393.8,267.0 394.0,265.9 394.1,264.0 394.3,262.6 394.4,262.0 394.6,260.8 394.7,259.2 394.9,257.3 395.0,255.3 395.2,253.4 395.3,251.5 395.5,249.6 395.6,247.9 395.8,245.8 395.9,244.6 396.1,244.2 396.2,243.4 396.4,242.1 396.5,241.2 396.6,242.4 396.8,243.6 397.0,244.7 397.1,245.8 397.2,248.4 397.4,251.2 397.5,254.0 397.7,256.4 397.8,259.2 397.9,260.8 398.1,261.1 398.2,264.4 398.4,265.8 398.6,266.1 398.7,268.6 398.9,270.1 399.0,270.5 399.2,268.5 399.3,271.1 399.5,272.2 399.6,271.7 399.8,272.8 399.9,277.5 400.1,274.0 400.3,274.4 400.4,274.0 400.6,271.3 400.7,272.1 400.9,275.6 401.1,274.9 401.2,275.5 401.4,274.2 401.5,274.2 401.7,274.1 401.8,274.9 402.0,273.4 402.2,274.0 402.3,273.9 402.5,274.5 402.6,272.9 402.8,274.0 403.0,270.3 403.1,272.3 403.3,273.5 403.4,276.9 403.6,276.3 403.7,276.8 403.9,276.0 404.0,274.3 404.2,276.7 404.3,278.8 404.5,277.4 404.6,278.1 404.8,278.0 405.0,277.3 405.1,275.8 405.3,277.5 405.4,276.7 405.6,276.0 405.7,275.3 405.9,276.5 406.0,274.9 406.2,275.5 406.3,274.0 406.5,275.6 406.6,273.9 406.8,274.0 407.0,274.0 407.1,276.8 407.3,275.0 407.4,275.2 407.6,273.9 407.8,276.0 407.9,274.2 408.1,279.3 408.2,276.8 408.4,275.3 408.5,276.3 408.7,275.0 408.9,275.8 409.0,273.2 409.2,279.9 409.3,276.5 409.5,275.3 409.7,273.2 409.8,273.5 410.0,274.3 410.1,274.7 410.3,271.6 410.4,276.3 410.6,271.9 410.7,276.8 410.9,272.6 411.0,271.2 411.2,270.4 411.3,268.2 411.5,270.0 411.6,268.1 411.8,267.7 411.9,266.7 412.1,265.9 412.2,263.9 412.4,263.6 412.5,261.4 412.7,261.3 412.8,259.2 412.9,256.5 413.1,251.8 413.2,249.3 413.4,245.5 413.5,241.8 413.6,238.5 413.8,235.2 413.9,231.8 414.0,228.4 414.2,225.0 414.3,221.7 414.4,222.0 414.6,222.0 414.7,220.9 414.8,221.2 414.9,223.2 415.1,225.1 415.2,227.0 415.4,229.0 415.5,231.1 415.6,235.9 415.8,240.7 415.9,245.5 416.1,250.2 416.2,255.2 416.3,256.9 416.5,259.4 416.6,259.7 416.8,262.8 416.9,264.9 417.1,265.8 417.2,268.6 417.4,268.4 417.5,271.8 417.7,274.8 417.8,272.2 418.0,269.6 418.1,272.6 418.3,271.9 418.4,271.1 418.6,273.0 418.7,276.0 418.9,274.0 419.1,276.0 419.2,273.8 419.4,271.4 419.5,276.5 419.7,279.1 419.8,274.5 420.0,273.5 420.1,274.7 420.3,275.4 420.4,274.7 420.6,274.4 420.7,274.0 420.9,274.3 421.0,272.0 421.2,274.2 421.3,278.4 421.5,275.3 421.7,270.6 421.8,276.1 422.0,276.4 422.1,275.0 422.3,275.6 422.5,274.2 422.6,275.8 422.8,276.0 422.9,276.1 423.1,275.3 423.2,279.0 423.4,277.0 423.6,275.5 423.7,275.9 423.9,274.5 424.0,278.2 424.2,275.3 424.4,275.7 424.5,277.2 424.7,274.4 424.8,279.4 425.0,272.9 425.2,274.9 425.3,272.8 425.5,273.4 425.6,275.6 425.8,271.9 425.9,274.1 426.1,273.1 426.3,275.9 426.4,271.9 426.6,273.6 426.7,275.7 426.9,274.0 427.1,274.4 427.2,274.4 427.4,278.0 427.5,269.4 427.7,273.7 427.9,273.9 428.0,273.8 428.2,273.4 428.3,270.1 428.5,270.1 428.6,273.3 428.8,272.4 429.0,271.1 429.1,267.3 429.3,271.7 429.4,269.3 429.6,271.3 429.8,270.4 429.9,268.7 430.1,268.0 430.2,265.8 430.4,265.2 430.6,263.4 430.7,263.1 430.9,261.7 431.0,260.1 431.2,259.2 431.4,257.3 431.5,255.0 431.7,252.9 431.8,250.9 432.0,248.7 432.1,246.8 432.3,244.5 432.4,243.8 432.6,244.5 432.7,242.2 432.8,242.5 433.0,241.6 433.1,241.2 433.3,242.4 433.4,243.7 433.6,244.6 433.7,245.9 433.9,247.2 434.0,249.1 434.2,251.3 434.3,253.1 434.4,255.2 434.6,257.2 434.7,259.2 434.8,260.3 435.0,262.6 435.1,263.2 435.3,264.7 435.4,266.1 435.6,267.6 435.7,268.4 435.9,269.3 436.0,271.3 436.1,271.5 436.3,270.5 436.4,268.2 436.6,274.5 436.7,272.9 436.9,272.5 437.0,271.4 437.2,274.2 437.3,273.6 437.5,272.5 437.6,274.0 437.8,278.1 437.9,277.0 438.1,276.6 438.2,275.6 438.4,274.5 438.6,273.9 438.7,275.0 438.9,273.3 439.0,275.1 439.2,272.5 439.4,270.8 439.5,275.7 439.7,274.7 439.8,275.8 440.0,275.3 440.2,276.3 440.3,276.7 440.5,275.7 440.6,276.8 440.8,275.9 440.9,277.7 441.1,277.3 441.2,272.6 441.4,274.8 441.5,275.2 441.7,274.7 441.8,274.3 442.0,277.2 442.1,272.1 442.3,274.4 442.4,276.5 442.6,274.7 442.7,274.9 442.9,275.7 443.1,278.9 443.2,276.6 443.4,275.6 443.5,274.2 443.7,275.0 443.8,279.4 444.0,276.7 444.1,273.4 444.3,276.3 444.4,275.3 444.6,276.3 444.7,275.0 444.9,274.1 445.0,271.9 445.2,275.0 445.3,277.1 445.5,277.3 445.6,276.1 445.8,275.6 446.0,276.4 446.1,274.6 446.3,275.3 446.4,277.5 446.6,279.7 446.7,275.7 446.9,276.7 447.1,278.1 447.2,279.8 447.4,275.3 447.5,276.4 447.7,275.7 447.9,275.9 448.0,276.0 448.2,275.4 448.3,272.5 448.5,277.0 448.6,276.7 448.8,276.2 449.0,277.4 449.1,274.8 449.3,275.2 449.4,276.3 449.6,278.3 449.7,275.9 449.9,274.9 450.0,276.1 450.2,278.5 450.3,277.2 450.5,277.5 450.6,275.5 450.8,274.9 450.9,277.1 451.1,276.5 451.2,276.8 451.4,275.2 451.5,274.8 451.7,275.4 451.9,274.6 452.0,276.9 452.2,277.4 452.3,275.1 452.5,277.0 452.6,275.2 452.8,275.4 452.9,275.7 453.1,274.7 453.2,274.9 453.4,274.9 453.5,274.9 453.7,275.6 453.8,273.9 454.0,276.5 454.1,274.5 454.3,275.5 454.4,276.0 454.6,275.7 454.8,274.4 454.9,275.5 455.1,275.9 455.2,275.9 455.4,277.5 455.5,276.7 455.7,274.4 455.8,277.1 456.0,276.0 456.1,276.4 456.3,274.8 456.4,276.0 456.6,276.6 456.7,277.0 456.9,277.1 457.0,275.3 457.2,277.3 457.3,276.3 457.5,276.2 457.7,276.4 457.8,277.0 458.0,275.3 458.1,277.1 458.3,276.5 458.5,275.7 458.6,274.2 458.8,274.3 458.9,273.0 459.1,274.5 459.3,275.1 459.4,272.2 459.6,273.8 459.7,273.3 459.9,272.6 460.1,270.0 460.2,274.6 460.4,272.8 460.5,272.3 460.7,270.2 460.8,274.0 461.0,272.8 461.1,273.4 461.3,272.5 461.4,273.8 461.6,273.6 461.8,273.6 461.9,275.1 462.1,274.8 462.2,275.3 462.4,274.2 462.5,273.2 462.6,276.9 462.8,277.8 462.9,276.3 463.1,278.1 463.2,277.1 463.4,276.8 463.6,276.7 463.7,276.0 463.9,275.5 464.0,275.5 464.2,274.4 464.3,274.8 464.5,274.6 464.6,271.6 464.8,274.0 464.9,272.6 465.1,271.2 465.2,270.1 465.4,269.0 465.6,267.4 465.7,266.0 465.8,264.7 466.0,263.3 466.1,261.6 466.3,260.3 466.4,259.0 466.5,259.0 466.7,258.9 466.8,258.1 467.0,257.8 467.1,258.1 467.2,257.5 467.4,259.3 467.5,259.0 467.7,260.9 467.8,260.7 468.0,262.1 468.1,262.1 468.3,264.1 468.4,262.6 468.6,264.0 468.8,264.6 468.9,265.9 469.1,265.5 469.2,267.5 469.4,267.1 469.5,269.0 469.7,270.1 469.8,270.0 470.0,270.2 470.1,274.0 470.3,271.4 470.4,272.2 470.6,268.9 470.7,270.9 470.9,273.2 471.0,275.1 471.2,273.7 471.3,275.4 471.5,274.2 471.6,271.9 471.8,275.0 471.9,274.5 472.1,273.2 472.2,272.5 472.4,272.8 472.6,271.3 472.7,272.0 472.9,271.8 473.0,271.0 473.2,271.5 473.3,271.3 473.5,269.2 473.6,271.9 473.8,274.2 473.9,272.9 474.1,272.4 474.2,273.9 474.4,275.1 474.5,275.6 474.7,277.2 474.8,277.5 475.0,276.8 475.2,279.2 475.3,278.1 475.5,276.6 475.6,275.6 475.8,278.8 476.0,276.0 476.1,276.9 476.3,276.1 476.4,277.5 476.6,275.8 476.8,276.4 476.9,275.8 477.1,277.7 477.2,276.8 477.4,276.5 477.6,276.8 477.7,276.1 477.9,275.6 478.0,277.6 478.2,277.2 478.3,277.1 478.5,279.6 478.6,276.7 478.8,275.7 478.9,276.8 479.1,276.2 479.2,276.7 479.4,276.6 479.5,276.8 479.7,278.3 479.8,277.5 480.0,276.7 480.2,276.5 480.3,277.5 480.5,277.7 480.6,277.3 480.8,276.6 480.9,277.9 481.1,276.5 481.2,275.1 481.4,275.9 481.6,276.7 481.7,276.1 481.9,276.2 482.0,276.1 482.2,275.5 482.3,274.8 482.5,274.2 482.6,276.5 482.8,275.8 482.9,276.1 483.1,276.1 483.3,277.8 483.4,276.2 483.6,276.8 483.7,276.5 483.9,277.9 484.0,274.1 484.2,275.5 484.4,277.6 484.5,275.6 484.7,277.5 484.8,274.7 485.0,273.7 485.2,276.7 485.3,275.2 485.5,275.3 485.6,277.0 485.8,274.5 485.9,277.5 486.1,275.1 486.3,275.0 486.4,274.6 486.6,274.7 486.7,275.4 486.9,275.4 487.0,276.8 487.2,273.6 487.3,273.6 487.5,274.7 487.6,276.0 487.8,276.6 488.0,275.9 488.1,276.2 488.3,276.4 488.4,273.4 488.6,275.6 488.7,279.3 488.9,276.0 489.0,278.3 489.2,276.5 489.4,276.5 489.5,275.9 489.7,273.6 489.8,275.9 490.0,276.2 490.1,276.5 490.3,276.6 490.4,276.8 490.6,276.7 490.8,274.4 490.9,276.2 491.1,279.0 491.2,274.4 491.4,277.4 491.5,276.8 491.7,277.4 491.8,276.6 492.0,276.7 492.1,277.0 492.3,277.0 492.5,278.4 492.6,276.6 492.8,275.4 492.9,274.7 493.1,278.1 493.2,276.4 493.4,275.6 493.6,277.0 493.7,277.8 493.9,276.9 494.0,275.7 494.2,276.5 494.4,276.1 494.5,273.7 494.7,278.9 494.8,276.5 495.0,275.4 495.1,277.8 495.3,276.5 495.5,279.4 495.6,277.2 495.8,275.8 495.9,275.5 496.1,276.3 496.2,276.4 496.4,277.4 496.5,278.4 496.7,277.5 496.9,275.7 497.0,276.1 497.2,274.7 497.3,275.9 497.5,274.1 497.6,274.5 497.8,274.5 497.9,275.2 498.1,275.2 498.2,276.0 498.4,275.5 498.6,273.9 498.7,274.3 498.9,275.9 499.0,275.9 499.2,276.0 499.3,276.1 499.5,275.9 499.6,275.7 499.8,276.2 499.9,274.1 500.1,274.9 500.3,276.2 500.4,274.9 500.6,275.8 500.7,275.2 500.9,275.6 501.0,276.7 501.2,276.1 501.3,275.7 501.5,275.8 501.7,275.3 501.8,276.7 502.0,276.2 502.1,275.8 502.3,277.1 502.4,276.4 502.6,278.7 502.8,276.3 502.9,277.4 503.1,276.2 503.2,276.6 503.4,277.1 503.6,274.7 503.7,276.1 503.9,276.4 504.0,274.4 504.2,277.0 504.3,276.8 504.5,276.3 504.7,278.1 504.8,276.2 505.0,276.5 505.1,278.1 505.3,276.6 505.4,277.8 505.6,276.8 505.8,276.7 505.9,276.6 506.1,276.5 506.2,277.2 506.4,277.4 506.6,276.4 506.7,278.2 506.9,279.7 507.0,275.8 507.2,275.2 507.3,274.0 507.5,278.7 507.7,275.3 507.8,277.2 508.0,276.3 508.1,275.9 508.3,276.0 508.5,277.0 508.6,273.7 508.8,277.6 508.9,276.5 509.1,275.7 509.2,275.5 509.4,276.2 509.6,276.4 509.7,276.2 509.9,275.4 510.0,275.4 510.2,275.5 510.3,276.9 510.5,275.4 510.6,276.2 510.8,275.4 511.0,275.1 511.1,274.8 511.3,275.1 511.4,274.6 511.6,275.0 511.7,273.5 511.9,274.2 512.1,273.9 512.2,275.6 512.4,274.3 512.5,275.6 512.7,276.5 512.8,274.9 513.0,273.5 513.1,275.6 513.3,275.4 513.5,274.7 513.6,276.4 513.8,275.4 513.9,273.7 514.1,273.9 514.2,275.0 514.4,276.0 514.5,276.7 514.7,274.6 514.8,273.5 515.0,276.2 515.1,276.5 515.3,276.2 515.5,276.4 515.6,277.5 515.8,278.3 515.9,279.2 516.0,277.7 516.2,274.1 516.3,276.2 516.5,277.4 516.6,279.4 516.8,277.5 517.0,275.9 517.1,277.5 517.3,277.2 517.4,277.2 517.6,276.8 517.7,276.8 517.9,276.7 518.0,276.0 518.2,277.4 518.4,277.2 518.5,277.7 518.7,277.5 518.8,279.2 519.0,276.8 519.1,278.4 519.3,277.1 519.4,277.0 519.6,277.6 519.7,278.2 519.9,277.3 520.0,277.6 520.2,277.5 520.3,277.8 520.5,276.3 520.6,277.6 520.8,276.1 520.9,276.8 521.1,277.7 521.3,279.9 521.4,280.4 521.6,276.9 521.7,276.4 521.9,277.4 522.1,277.3 522.2,277.1 522.4,278.0 522.5,277.8 522.7,277.4 522.8,277.6 523.0,277.3 523.2,277.4 523.3,277.5 523.5,278.7 523.6,278.9 523.8,279.6 523.9,277.9 524.1,275.4 524.2,276.6 524.4,277.3 524.5,276.0 524.7,276.6 524.9,274.4 525.0,275.5 525.2,276.0 525.3,274.4 525.5,275.9 525.6,275.2 525.8,276.9 525.9,275.4 526.1,275.4 526.2,276.4 526.4,275.5 526.6,275.7 526.7,273.7 526.9,275.1 527.0,276.1 527.2,275.2 527.4,275.5 527.5,276.4 527.7,276.3 527.8,275.9 528.0,276.6 528.2,276.9 528.3,274.5 528.5,276.3 528.6,276.5 528.8,277.0 529.0,277.8 529.1,274.3 529.3,275.6 529.4,274.7 529.6,275.6 529.7,275.6 529.9,272.6 530.0,275.2 530.2,274.2 530.3,272.7 530.5,273.0 530.6,273.2 530.8,272.6 531.0,272.7 531.1,272.0 531.2,272.2 531.4,272.1 531.6,272.2 531.7,271.8 531.8,272.0 532.0,271.7 532.1,271.2 532.3,271.6 532.4,271.6 532.6,272.3 532.7,271.7 532.9,271.5 533.0,271.5 533.1,271.7 533.3,272.3 533.5,272.1 533.6,273.0 533.8,273.2 533.9,273.3 534.1,273.8 534.2,274.0 534.3,274.2 534.5,273.7 534.6,274.9 534.8,273.5 534.9,274.3 535.1,276.0 535.2,276.5 535.4,277.5 535.5,276.0 535.7,276.9 535.8,279.8 536.0,278.1 536.1,278.8 536.3,277.9 536.4,277.8 536.6,278.0 536.7,278.2 536.9,278.1 537.0,278.0 537.2,277.8 537.3,276.8 537.5,278.7 537.7,278.4 537.8,279.3 538.0,278.7 538.1,277.6 538.3,279.4 538.4,276.4 538.6,280.2 538.7,278.8 538.9,278.6 539.0,278.3 539.2,279.3 539.3,275.4 539.5,275.4 539.6,278.4 539.8,277.9 539.9,278.1 540.1,278.3 540.2,276.2 540.4,278.2 540.5,281.0 540.7,278.4 540.9,276.5 541.0,278.4 541.1,277.8 541.3,278.0 541.5,278.0 541.6,280.4 541.8,276.1 541.9,280.2 542.1,277.1 542.2,277.0 542.4,276.3 542.5,276.8 542.7,276.8 542.8,278.5 543.0,277.2 543.1,275.5 543.3,277.7 543.4,277.3 543.6,278.1 543.7,275.3 543.9,278.5 544.0,278.7 544.2,274.5 544.3,277.4 544.5,277.5 544.6,276.1 544.8,277.1 545.0,275.4 545.1,277.9 545.2,275.6 545.4,276.6 545.5,276.4 545.7,275.5 545.8,274.9 546.0,276.9 546.1,273.1 546.3,275.0 546.5,274.2 546.6,274.3 546.8,274.6 546.9,274.0 547.1,272.8 547.2,274.0 547.4,274.2 547.5,274.0 547.7,273.3 547.8,272.8 548.0,273.0 548.2,272.1 548.3,272.8 548.5,272.7 548.6,272.5 548.8,272.9 549.0,272.1 549.1,272.4 549.3,272.2 549.4,272.3 549.6,272.2 549.8,271.6 549.9,272.0 550.1,271.4 550.2,271.5 550.4,271.2 550.6,272.0 550.7,271.8 550.9,272.0 551.0,271.8 551.2,272.5 551.3,272.6 551.5,273.0 551.6,273.3 551.8,273.8 552.0,277.0 552.1,275.3 552.2,276.0 552.4,275.1 552.6,276.1 552.7,277.0 552.9,278.3 553.0,276.1 553.2,279.5 553.3,277.5 553.5,277.6 553.6,277.9 553.8,278.0 553.9,278.2 554.1,278.2 554.2,279.0 554.4,278.2 554.5,277.9 554.7,278.9 554.8,277.7 555.0,279.3 555.2,279.2 555.3,279.3 555.5,280.1 555.6,278.1 555.8,279.2 555.9,280.2 556.1,279.2 556.3,280.5 556.4,280.0 556.6,277.5 556.7,279.4 556.9,280.3 557.1,279.7 557.2,280.0 557.4,282.7 557.5,280.1 557.7,279.8 557.8,280.8 558.0,279.8 558.2,279.5 558.3,276.5 558.5,278.9 558.6,279.4 558.8,281.0 558.9,279.2 559.1,278.3 559.2,281.7 559.4,278.4 559.5,277.7 559.7,278.4 559.8,277.8 560.0,278.0 560.2,276.7 560.3,278.4 560.5,278.3 560.6,280.3 560.8,276.7 561.0,279.2 561.1,278.5 561.3,277.1 561.4,277.6 561.6,277.9 561.8,277.2 561.9,276.3 562.1,278.5 562.2,276.5 562.4,277.4 562.5,277.3 562.7,278.8 562.9,277.5 563.0,277.2 563.2,279.9 563.3,276.9 563.5,277.2 563.7,277.1 563.8,276.7 564.0,276.8 564.1,276.6 564.3,276.5 564.4,276.1 564.6,275.7 564.7,275.8 564.9,275.9 565.0,275.2 565.2,274.4 565.3,274.7 565.5,274.8 565.6,275.4 565.8,274.4 566.0,274.9 566.1,275.2 566.2,276.1 566.4,275.9 566.5,276.3 566.7,276.5 566.8,276.6 567.0,276.9 567.1,277.0 567.3,277.2 567.4,277.5 567.6,277.2 567.8,274.9 567.9,278.3 568.0,277.8 568.2,278.1 568.3,280.0 568.5,278.8 568.6,277.9 568.8,279.5 569.0,279.8 569.1,279.7 569.3,277.9 569.4,279.4 569.6,280.0 569.7,279.4 569.9,282.9 570.0,280.8 570.2,280.1 570.3,281.6 570.5,277.9 570.6,279.6 570.8,281.8 570.9,280.4 571.1,279.5 571.2,280.6 571.4,281.1 571.5,280.8 571.7,280.7 571.9,278.7 572.0,278.5 572.2,280.5 572.3,277.8 572.5,279.2 572.6,281.0 572.8,280.6 572.9,279.2 573.1,281.9 573.2,280.4 573.4,281.9 573.5,280.9 573.7,280.9 573.8,280.6 574.0,281.1 574.1,280.1 574.3,280.1 574.4,281.9 574.6,280.7 574.8,279.9 574.9,280.5 575.1,281.3 575.2,280.3 575.4,280.4 575.5,282.1 575.7,279.9 575.8,280.1 576.0,282.0 576.1,280.2 576.3,280.3 576.4,281.9 576.6,280.3 576.7,283.7 576.9,281.6 577.0,281.7 577.2,280.0 577.3,280.0 577.5,280.7 577.7,281.2 577.8,281.5 578.0,279.8 578.1,279.7 578.3,279.8 578.4,279.2 578.6,280.1 578.7,280.2 578.9,280.4 579.0,278.2 579.2,279.2 579.3,278.7 579.5,279.4 579.6,279.0 579.8,281.5 579.9,279.4 580.1,278.5 580.2,279.9 580.4,279.5 580.6,281.9 580.7,280.2 580.9,279.7 581.0,279.1 581.2,279.1 581.3,278.8 581.5,280.0 581.7,279.9 581.8,279.1 582.0,280.1 582.1,279.3 582.3,279.3 582.5,278.4 582.6,278.2 582.8,278.1 582.9,280.2 583.1,279.5 583.2,280.0 583.4,278.6 583.6,279.4 583.7,279.2 583.9,278.2 584.0,278.9 584.2,277.2 584.3,278.4 584.5,275.9 584.6,280.2 584.8,279.0 584.9,276.8 585.1,278.3 585.2,278.4 585.4,275.4 585.5,277.5 585.7,277.3 585.9,277.3 586.0,277.8 586.2,279.0 586.3,278.4 586.5,277.3 586.6,278.3 586.8,278.4 586.9,275.5 587.1,277.5 587.2,278.5 587.4,278.0 587.5,278.4 587.7,279.6 587.8,281.5 588.0,279.5 588.2,279.5 588.3,280.0 588.5,280.4 588.6,280.3 588.8,280.3 588.9,277.2 589.1,281.4 589.3,279.4 589.4,279.6 589.6,280.6 589.7,280.8 589.9,281.4 590.1,280.4 590.2,282.9 590.4,281.3 590.5,282.2 590.7,281.2 590.8,279.7 591.0,281.5 591.2,278.3 591.3,281.4 591.5,280.8 591.6,280.6 591.8,280.1 591.9,279.4 592.1,280.1 592.2,279.3 592.4,281.0 592.5,278.6 592.7,281.6 592.8,280.2 593.0,278.7 593.1,279.4 593.3,278.5 593.5,278.7 593.6,278.5 593.8,279.5 593.9,279.6 594.1,278.0 594.2,280.2 594.4,276.5 594.5,275.9 594.7,278.9 594.8,278.6 595.0,278.9 595.1,279.1 595.3,279.1 595.4,280.7 595.6,280.8 595.7,279.0 595.9,278.9 596.0,279.8 596.2,279.5 596.4,278.8 596.5,279.4 596.7,280.2 596.8,276.7 597.0,280.4 597.2,280.4 597.3,279.7 597.5,279.3 597.6,280.1 597.8,279.6 598.0,281.0 598.1,280.3 598.3,279.8 598.4,281.1 598.6,280.5 598.7,279.2 598.9,280.3 599.1,280.5 599.2,282.4 599.4,280.2 599.5,280.6 599.7,280.7 599.9,283.3 600.0,280.6 600.2,281.7 600.3,279.4 600.5,280.6 600.7,280.0 600.8,282.1 601.0,281.0 601.1,280.2 601.3,279.5 601.5,280.8 601.6,279.5 601.8,280.9 601.9,281.5 602.1,280.6 602.3,280.1 602.4,280.8 602.6,280.1 602.7,282.1 602.9,281.1 603.1,279.7 603.2,281.7 603.4,280.8 603.5,281.7 603.7,281.9 603.8,280.1 604.0,281.9 604.1,283.2 604.3,281.5 604.4,281.7 604.6,281.0 604.7,280.5 604.9,282.0 605.0,282.3 605.2,280.7 605.3,280.3 605.5,281.2 605.6,281.8 605.8,281.6 606.0,281.3 606.1,283.8 606.3,282.2 606.4,283.0 606.6,281.6 606.7,282.0 606.9,283.4 607.1,279.1 607.2,281.5 607.4,280.4 607.5,282.0 607.7,280.6 607.9,281.8 608.0,280.8 608.2,281.4 608.3,281.5 608.5,282.5 608.6,282.2 608.8,281.0 609.0,280.9 609.1,281.5 609.3,280.2 609.4,279.7 609.6,281.6 609.7,282.6 609.9,281.8 610.0,281.3 610.2,281.5 610.3,281.8 610.5,281.5 610.6,281.1 610.8,282.4 610.9,281.2 611.1,282.9 611.2,282.3 611.4,282.3 611.5,282.5 611.7,281.6 611.9,284.5 612.0,284.5 612.2,281.5 612.3,281.2 612.5,281.9 612.6,283.7 612.8,281.6 612.9,278.7 613.1,279.0 613.2,281.1 613.4,281.9 613.5,282.4 613.7,280.8 613.8,281.0 614.0,281.0 614.1,279.5 614.3,277.9 614.4,280.9 614.6,280.8 614.8,280.8 614.9,282.0 615.1,280.1 615.2,282.0 615.4,280.5 615.5,281.1 615.7,281.5 615.8,280.1 616.0,283.1 616.1,283.3 616.3,283.7 616.4,278.3 616.6,281.6 616.7,281.7 616.9,282.6 617.0,280.7 617.2,280.3 617.3,282.4 617.5,281.6 617.7,281.1 617.8,279.9 618.0,280.2 618.1,282.0 618.3,281.8 618.4,282.3 618.6,282.6 618.7,278.8 618.9,283.5 619.0,283.0 619.2,283.5 619.3,282.5 619.5,281.6 619.6,281.3 619.8,283.4 619.9,281.8 620.1,281.9 620.2,282.4 620.4,282.0 620.5,282.2 620.7,281.9 620.9,281.5 621.0,281.0 621.1,281.4 621.3,280.3 621.4,279.7 621.6,281.4 621.8,280.8 621.9,279.5 622.1,280.0 622.2,278.6 622.4,277.5 622.5,281.1 622.7,281.3 622.8,279.0 623.0,279.8 623.1,276.7 623.3,279.3 623.4,279.9 623.6,279.2 623.7,280.3 623.9,281.0 624.0,278.4 624.2,279.9 624.3,279.3 624.5,279.5 624.7,278.7 624.8,279.4 625.0,279.8 625.1,281.2 625.3,280.6 625.4,277.1 625.6,278.3 625.7,283.3 625.9,280.5 626.0,280.7 626.2,280.3 626.3,281.6 626.5,280.9 626.6,281.1 626.8,280.4 626.9,281.8 627.1,280.5 627.2,280.2 627.4,281.4 627.6,281.6 627.7,282.3 627.9,280.9 628.0,280.9 628.2,280.3 628.3,281.5 628.5,281.9 628.7,280.1 628.8,281.3 629.0,281.3 629.1,279.9 629.3,281.2 629.5,280.6 629.6,280.3 629.8,284.1 629.9,279.6 630.1,280.7 630.2,281.3 630.4,281.0 630.6,280.8 630.7,278.1 630.9,282.1 631.0,280.3 631.2,280.8 631.3,282.4 631.5,283.3 631.6,282.4 631.8,280.7 631.9,281.5 632.1,281.9 632.2,280.1 632.4,283.2 632.5,279.5 632.7,281.2 632.8,280.2 633.0,280.1 633.1,279.7 633.3,280.8 633.5,282.6 633.6,279.6 633.8,282.2 633.9,279.8 634.1,280.3 634.2,279.9 634.4,283.6 634.5,279.2 634.7,281.7 634.8,280.2 635.0,282.6 635.1,281.1 635.3,280.0 635.4,280.5 635.6,279.5 635.7,280.3 635.9,277.9 636.0,280.8 636.2,280.4 636.4,280.8 636.5,280.2 636.7,278.0 636.8,282.9 637.0,280.1 637.1,281.1 637.2,279.2 637.4,281.6 637.5,281.9 637.7,282.3 637.9,282.0 638.0,282.6 638.2,281.9 638.3,283.2 638.5,281.9 638.6,282.0 638.8,282.3 638.9,281.7 639.1,282.7 639.2,280.6 639.4,281.7 639.5,281.8 639.7,281.4 639.8,282.8 640.0,281.8 640.2,281.6 640.3,281.8 640.5,281.9 640.6,283.0 640.8,281.4 641.0,283.1 641.1,284.1 641.3,281.7 641.4,281.4 641.6,283.1 641.7,282.0 641.9,281.8 642.1,281.0 642.2,282.8 642.4,284.4 642.5,284.0 642.7,282.8 642.9,282.9 643.0,282.6 643.2,285.3 643.3,283.0 643.5,284.7 643.7,283.0 643.8,282.9 644.0,282.9 644.1,281.3 644.3,281.8 644.5,280.6 644.6,284.0 644.8,285.3 644.9,282.4 645.1,281.2 645.3,281.0 645.4,282.0 645.6,281.9 645.7,281.2 645.9,280.5 646.1,282.3 646.2,282.7 646.4,280.1 646.5,281.4 646.7,281.8 646.9,281.3 647.0,281.8 647.2,281.8 647.3,281.4 647.5,282.6 647.6,281.3 647.8,281.0 647.9,282.0 648.1,282.3 648.2,282.5 648.4,280.3 648.5,280.4 648.7,281.0 648.9,283.4 649.0,281.2 649.2,281.2 649.3,280.5 649.5,283.8 649.6,279.9 649.8,280.8 649.9,281.0 650.1,281.4 650.2,281.4 650.4,280.5 650.6,280.3 650.7,280.1 650.9,283.4 651.0,280.8 651.2,280.3 651.3,279.7 651.5,281.6 651.7,281.9 651.8,281.1 652.0,280.7 652.1,281.3 652.3,283.8 652.5,281.3 652.6,281.9 652.8,282.4 652.9,281.9 653.1,281.3 653.2,280.5 653.4,281.4 653.6,281.7 653.7,282.1 653.9,283.3 654.0,280.0 654.2,279.7 654.4,281.1 654.5,281.6 654.7,279.1 654.8,280.8 655.0,279.9 655.1,283.3 655.3,280.0 655.5,278.6 655.6,280.8 655.8,279.6 655.9,279.7 656.1,279.8 656.3,278.7 656.4,279.5 656.6,278.7 656.7,279.3 656.9,280.0 657.1,279.5 657.2,280.3 657.4,281.3 657.5,280.1 657.7,277.5 657.9,282.1 658.0,279.2 658.2,279.7 658.3,280.1 658.5,280.3 658.7,279.7 658.8,280.0 659.0,280.3 659.1,280.0 659.3,279.6 659.5,280.0 659.6,279.9 659.8,279.7 659.9,280.4 660.1,280.2 660.3,280.3 660.4,280.1 660.6,280.8 660.7,281.2 660.9,280.7 661.0,280.1 661.2,282.2 661.3,279.2 661.5,281.3 661.6,280.4 661.8,280.4 662.0,281.6 662.1,281.0 662.3,283.2 662.4,281.9 662.6,279.5 662.7,280.8 662.9,281.5 663.0,279.4 663.2,281.0 663.3,283.9 663.5,281.0 663.7,280.3 663.8,279.6 664.0,280.3 664.1,280.3 664.3,280.1 664.4,280.3 664.6,281.3 664.7,280.3 664.9,280.3 665.0,278.8 665.2,278.2 665.3,281.9 665.5,279.8 665.6,279.3 665.8,281.3 665.9,278.9 666.1,279.3 666.2,279.1 666.4,277.1 666.5,276.7 666.7,278.1 666.8,278.0 667.0,276.4 667.1,276.7 667.3,275.9 667.4,275.8 667.6,275.7 667.7,274.9 667.9,274.5 668.0,274.4 668.2,274.0 668.4,271.6 668.5,268.4 668.6,267.4 668.8,264.0 669.0,262.9 669.1,261.8 669.2,262.1 669.4,261.0 669.5,261.8 669.6,262.0 669.8,262.9 669.9,264.0 670.0,265.2 670.1,265.5 670.3,266.6 670.4,267.0 670.5,267.9 670.7,266.4 670.8,268.1 670.9,268.5 671.1,269.2 671.2,269.7 671.4,270.6 671.5,268.7 671.7,272.1 671.8,270.7 672.0,270.7 672.1,271.7 672.3,271.5 672.4,272.2 672.6,273.4 672.7,274.2 672.9,275.1 673.0,276.0 673.1,276.7 673.2,277.7 673.4,279.2 673.5,279.8 673.7,280.0 673.8,279.7 674.0,280.6 674.1,281.4 674.3,279.0 674.4,283.0 674.6,277.0 674.7,280.3 674.9,279.5 675.0,279.5 675.2,280.1 675.3,280.4 675.5,280.2 675.7,280.1 675.8,280.7 676.0,282.3 676.1,279.4 676.3,279.7 676.5,280.6 676.6,280.3 676.8,280.1 676.9,280.5 677.1,281.0 677.2,282.0 677.4,282.4 677.6,281.5 677.7,280.4 677.9,282.0 678.0,281.2 678.2,280.8 678.4,280.0 678.5,283.1 678.7,280.6 678.8,281.7 679.0,281.9 679.1,283.0 679.3,282.1 679.4,284.7 679.6,280.2 679.7,279.9 679.9,281.4 680.0,282.5 680.2,282.5 680.4,282.0 680.5,280.3 680.7,280.8 680.8,281.4 681.0,280.7 681.1,281.2 681.3,280.2 681.4,281.2 681.6,280.3 681.7,279.3 681.9,279.0 682.1,278.3 682.2,277.4 682.4,277.2 682.5,276.9 682.7,276.5 682.8,275.5 683.0,275.8 683.1,274.2 683.3,275.0"/>
<rect x="242" y="150" width="2" height="75" fill="#7272e6" shape-rendering="crispEdges"/>
<polyline fill="none" shape-rendering="crispEdges" stroke="#ff0000" stroke-width="1.6" stroke-linejoin="round" points="38.5,446.5 38.6,447.7 38.8,446.3 39.0,446.4 39.1,444.6 39.3,445.8 39.4,445.5 39.6,445.0 39.7,446.0 39.9,445.0 40.0,444.8 40.2,446.4 40.3,445.7 40.5,446.2 40.6,445.7 40.8,445.7 40.9,445.2 41.1,445.6 41.2,445.4 41.4,445.6 41.6,445.2 41.7,446.6 41.9,444.9 42.0,444.8 42.1,445.2 42.3,446.4 42.5,446.7 42.6,445.6 42.8,444.7 42.9,443.6 43.1,442.9 43.2,442.2 43.4,440.7 43.5,440.1 43.6,439.2 43.8,438.1 44.0,436.9 44.1,436.3 44.2,435.2 44.4,433.7 44.5,432.6 44.7,431.6 44.8,431.1 45.0,428.8 45.1,427.4 45.3,426.8 45.4,425.6 45.5,424.4 45.7,422.8 45.8,421.7 46.0,420.1 46.1,419.0 46.3,417.6 46.4,416.4 46.5,416.5 46.7,416.3 46.8,416.5 46.9,416.2 47.1,415.9 47.2,416.4 47.4,418.4 47.5,420.6 47.7,422.7 47.8,424.9 48.0,427.1 48.1,427.8 48.3,428.2 48.4,430.0 48.6,429.6 48.7,430.2 48.9,427.8 49.0,425.5 49.2,423.2 49.3,420.5 49.5,418.0 49.7,415.7 49.8,414.9 50.0,412.6 50.1,411.9 50.3,410.3 50.4,406.7 50.6,404.2 50.7,400.8 50.9,398.4 51.0,395.0 51.1,391.8 51.3,388.9 51.5,385.8 51.6,382.8 51.7,382.6 51.9,382.8 52.0,382.8 52.1,384.2 52.3,385.7 52.5,387.2 52.6,388.8 52.7,394.2 52.9,400.1 53.0,405.7 53.1,416.6 53.3,428.7 53.4,431.0 53.6,433.3 53.7,436.6 53.8,438.9 54.0,441.4 54.1,444.0 54.2,444.0 54.4,444.6 54.6,443.8 54.7,443.4 54.9,442.8 55.0,443.1 55.1,446.3 55.3,442.9 55.5,442.6 55.6,442.5 55.8,443.8 55.9,440.2 56.1,440.2 56.2,442.9 56.4,444.0 56.5,439.7 56.7,438.9 56.8,438.4 57.0,441.8 57.1,440.3 57.3,441.5 57.4,441.7 57.6,437.9 57.7,442.4 57.9,441.0 58.1,440.7 58.2,440.8 58.4,440.6 58.5,440.5 58.7,440.4 58.8,439.5 59.0,440.2 59.1,440.0 59.3,440.0 59.4,439.7 59.6,439.7 59.7,439.8 59.9,440.4 60.0,439.3 60.2,439.4 60.4,439.7 60.5,439.3 60.7,438.8 60.8,438.3 61.0,439.5 61.1,438.9 61.3,438.6 61.4,439.0 61.6,439.0 61.7,439.2 61.9,438.8 62.0,438.6 62.2,438.6 62.4,439.6 62.5,440.6 62.7,441.7 62.8,442.8 63.0,443.5 63.1,444.6 63.3,445.6 63.4,445.5 63.6,444.3 63.8,446.5 63.9,449.7 64.0,446.2 64.2,447.6 64.3,448.7 64.5,446.9 64.6,449.4 64.8,447.9 65.0,448.4 65.1,447.9 65.3,446.5 65.4,446.7 65.6,445.6 65.7,448.5 65.9,447.7 66.0,445.0 66.2,446.6 66.3,445.6 66.5,446.9 66.6,446.2 66.8,448.0 66.9,446.3 67.1,445.6 67.3,443.9 67.4,445.0 67.6,445.3 67.7,446.6 67.9,444.5 68.0,443.8 68.2,444.0 68.3,443.7 68.5,443.1 68.6,443.7 68.8,443.3 68.9,443.8 69.1,445.1 69.2,445.7 69.4,443.3 69.6,442.3 69.7,443.5 69.9,443.8 70.0,442.4 70.2,443.6 70.3,442.7 70.5,443.3 70.6,443.3 70.8,444.7 70.9,443.0 71.1,443.9 71.2,444.0 71.4,443.5 71.5,445.8 71.7,444.0 71.9,443.7 72.0,443.8 72.2,444.8 72.3,444.4 72.5,445.1 72.6,443.5 72.8,443.6 72.9,445.5 73.1,444.7 73.2,446.3 73.4,444.4 73.5,444.6 73.7,446.6 73.8,445.2 74.0,445.6 74.2,444.1 74.3,444.7 74.5,446.2 74.6,444.8 74.8,445.4 74.9,446.3 75.1,445.5 75.2,445.8 75.4,448.0 75.5,444.6 75.7,446.3 75.8,445.1 76.0,444.0 76.1,443.6 76.3,444.8 76.5,444.6 76.6,444.0 76.8,446.2 76.9,445.7 77.1,443.5 77.2,447.4 77.4,446.4 77.5,446.3 77.7,445.5 77.8,446.8 78.0,448.8 78.1,447.5 78.3,447.4 78.4,447.9 78.6,447.9 78.8,447.9 78.9,448.1 79.1,446.9 79.2,446.5 79.4,444.3 79.5,448.6 79.7,444.2 79.8,446.8 80.0,447.6 80.1,447.4 80.3,448.9 80.4,446.5 80.6,445.8 80.7,446.1 80.9,447.1 81.1,447.0 81.2,446.5 81.4,446.9 81.5,447.3 81.7,446.4 81.8,447.2 82.0,443.7 82.1,446.8 82.3,448.2 82.4,448.5 82.6,446.7 82.7,449.7 82.9,445.7 83.0,445.9 83.2,446.3 83.4,446.3 83.5,446.5 83.7,447.6 83.8,446.6 84.0,444.6 84.1,447.4 84.3,446.3 84.4,448.5 84.6,446.4 84.7,446.9 84.9,446.2 85.0,447.1 85.2,447.9 85.3,447.2 85.5,447.9 85.7,445.7 85.8,448.1 86.0,448.6 86.1,446.5 86.3,447.8 86.4,446.1 86.6,444.8 86.7,447.8 86.9,447.6 87.0,449.4 87.2,444.8 87.3,448.5 87.5,448.8 87.6,448.0 87.8,448.2 87.9,448.0 88.1,447.1 88.2,446.9 88.4,445.2 88.5,448.7 88.7,444.2 88.8,445.5 89.0,447.1 89.1,446.3 89.3,446.2 89.4,446.3 89.6,445.8 89.7,445.2 89.9,447.2 90.0,445.0 90.2,445.8 90.4,447.0 90.5,445.8 90.7,448.5 90.8,445.3 91.0,446.4 91.2,446.4 91.3,446.3 91.5,447.1 91.6,444.0 91.8,446.4 91.9,447.1 92.1,446.3 92.3,444.1 92.4,446.3 92.6,446.1 92.7,446.0 92.9,446.2 93.0,446.4 93.2,446.6 93.3,447.5 93.5,446.3 93.7,449.3 93.8,446.3 94.0,445.3 94.1,444.7 94.3,444.0 94.4,445.2 94.6,444.4 94.7,446.1 94.9,446.1 95.0,445.9 95.2,445.6 95.4,445.3 95.5,445.4 95.7,444.9 95.8,447.2 96.0,442.1 96.1,444.9 96.3,445.5 96.4,444.3 96.6,446.4 96.8,445.2 96.9,444.9 97.1,443.1 97.2,444.5 97.4,445.2 97.5,444.5 97.7,442.7 97.8,445.1 98.0,444.4 98.1,446.0 98.3,444.8 98.5,445.4 98.6,445.6 98.8,446.5 98.9,446.1 99.1,444.9 99.2,445.5 99.4,444.9 99.5,444.7 99.7,444.9 99.8,444.4 100.0,445.2 100.1,445.2 100.3,446.5 100.4,445.5 100.6,446.3 100.8,443.8 100.9,445.7 101.1,444.8 101.2,446.0 101.4,444.5 101.5,445.2 101.7,443.9 101.8,444.7 102.0,445.8 102.1,443.8 102.3,444.2 102.4,443.8 102.6,441.8 102.7,440.5 102.9,443.3 103.1,444.3 103.2,442.8 103.4,443.6 103.5,442.9 103.7,444.1 103.8,442.1 104.0,442.9 104.1,443.0 104.3,443.7 104.4,440.1 104.6,442.4 104.7,442.6 104.9,442.8 105.0,441.4 105.2,442.5 105.4,442.4 105.5,442.6 105.7,442.5 105.8,440.9 106.0,441.3 106.1,440.8 106.3,440.8 106.4,440.5 106.6,442.7 106.7,437.1 106.9,442.4 107.0,437.4 107.2,438.0 107.3,438.8 107.5,439.4 107.7,438.4 107.8,439.7 108.0,439.1 108.1,439.5 108.2,436.9 108.4,433.4 108.5,436.5 108.7,437.2 108.8,433.8 109.0,434.8 109.2,434.3 109.3,432.4 109.5,432.7 109.6,431.7 109.8,431.4 109.9,430.6 110.0,428.9 110.2,428.7 110.4,427.0 110.5,425.3 110.7,423.6 110.8,421.8 111.0,420.2 111.2,421.6 111.3,423.0 111.5,424.1 111.6,425.7 111.8,427.1 111.9,428.8 112.1,430.0 112.2,431.9 112.4,433.3 112.5,434.8 112.7,436.6 112.8,437.9 112.9,438.2 113.1,438.5 113.2,438.7 113.4,440.6 113.5,438.3 113.7,439.1 113.8,439.8 114.0,438.7 114.1,441.0 114.2,440.2 114.4,438.8 114.5,437.8 114.7,437.0 114.8,435.5 115.0,434.2 115.1,433.3 115.2,429.0 115.3,424.7 115.5,420.2 115.6,416.0 115.7,411.8 115.9,407.6 116.0,403.5 116.1,399.3 116.3,395.4 116.4,391.0 116.5,385.5 116.7,380.0 116.8,374.5 117.0,369.1 117.1,363.7 117.3,358.2 117.4,352.8 117.6,353.1 117.7,352.6 117.9,353.0 118.0,352.6 118.2,352.8 118.3,415.0 118.4,422.3 118.6,429.3 118.7,437.0 118.9,438.7 119.0,437.1 119.2,438.1 119.3,435.0 119.5,438.5 119.6,437.4 119.8,438.3 119.9,439.0 120.0,437.8 120.2,439.1 120.3,440.3 120.5,439.4 120.7,438.9 120.8,438.9 121.0,438.4 121.1,438.1 121.3,438.1 121.4,437.8 121.6,437.7 121.7,437.6 121.9,437.2 122.0,436.7 122.2,436.6 122.3,436.4 122.5,436.3 122.6,435.9 122.8,435.6 123.0,435.9 123.1,436.0 123.3,437.0 123.4,436.9 123.6,437.3 123.7,438.1 123.9,437.9 124.0,438.9 124.2,438.6 124.3,438.8 124.5,439.6 124.6,440.1 124.8,440.2 124.9,440.9 125.1,441.0 125.2,440.3 125.4,441.0 125.5,438.2 125.7,438.6 125.8,437.3 126.0,438.8 126.1,437.7 126.3,437.6 126.4,436.1 126.6,436.3 126.8,436.3 126.9,438.4 127.1,432.7 127.2,433.4 127.4,434.5 127.5,433.8 127.7,433.3 127.8,430.6 128.0,430.9 128.1,428.5 128.3,429.4 128.4,429.1 128.6,427.7 128.7,427.6 128.9,427.1 129.1,426.5 129.2,424.8 129.4,424.3 129.5,426.7 129.7,422.2 129.8,428.6 130.0,426.5 130.1,428.0 130.3,425.1 130.4,420.7 130.6,422.3 130.7,423.0 130.9,422.1 131.0,420.8 131.2,422.5 131.3,421.9 131.5,420.8 131.6,419.4 131.8,417.9 131.9,417.3 132.1,416.1 132.2,414.6 132.4,413.2 132.5,412.1 132.7,411.4 132.8,410.3 133.0,409.7 133.1,407.9 133.2,407.5 133.4,406.5 133.6,406.1 133.7,404.4 133.9,404.0 134.0,402.8 134.2,402.1 134.3,401.1 134.4,400.3 134.6,399.4 134.7,398.6 134.9,397.6 135.0,396.8 135.1,396.6 135.2,396.4 135.4,396.6 135.5,396.8 135.6,397.6 135.8,398.8 135.9,399.6 136.1,400.7 136.2,401.8 136.4,402.8 136.5,403.7 136.7,406.2 136.8,407.0 136.9,408.2 137.1,410.8 137.2,412.1 137.4,414.2 137.5,414.8 137.7,417.4 137.8,418.0 138.0,420.2 138.1,421.7 138.3,422.9 138.4,424.3 138.6,425.7 138.7,426.7 138.9,427.8 139.0,429.8 139.2,430.0 139.3,430.9 139.4,430.7 139.6,430.9 139.8,432.3 139.9,432.7 140.1,432.8 140.2,435.8 140.4,436.5 140.5,432.7 140.7,435.4 140.8,436.0 141.0,435.5 141.1,436.0 141.3,433.9 141.4,435.1 141.6,434.5 141.8,435.9 141.9,437.8 142.1,435.9 142.2,439.3 142.4,439.0 142.5,437.7 142.7,438.5 142.9,439.3 143.0,441.3 143.2,438.0 143.3,439.9 143.5,440.0 143.6,439.9 143.8,440.1 144.0,439.3 144.1,441.6 144.3,440.7 144.4,441.7 144.6,442.2 144.8,444.1 144.9,442.0 145.1,441.9 145.2,444.3 145.3,442.7 145.5,442.7 145.7,441.8 145.8,443.0 145.9,442.5 146.1,442.9 146.2,442.6 146.4,442.9 146.6,441.1 146.7,444.1 146.9,443.1 147.0,444.9 147.2,442.0 147.3,441.9 147.5,441.1 147.7,441.8 147.8,441.8 148.0,441.1 148.1,441.4 148.3,441.4 148.4,443.0 148.6,441.7 148.7,442.7 148.9,441.6 149.1,439.5 149.2,440.8 149.4,444.1 149.5,439.7 149.7,440.1 149.8,442.1 150.0,441.7 150.2,441.4 150.3,442.6 150.5,442.6 150.6,441.6 150.8,442.7 150.9,442.6 151.1,443.9 151.2,440.9 151.4,442.9 151.6,442.3 151.7,443.3 151.9,440.7 152.0,444.5 152.2,446.1 152.3,443.2 152.5,444.4 152.7,443.1 152.8,446.1 153.0,443.2 153.1,440.8 153.3,442.4 153.4,444.3 153.6,442.0 153.7,447.7 153.9,444.7 154.1,445.0 154.2,444.9 154.4,445.1 154.5,444.7 154.7,446.3 154.8,445.5 155.0,444.8 155.2,444.5 155.3,443.9 155.5,444.6 155.6,444.8 155.8,443.4 155.9,447.0 156.1,444.6 156.2,445.3 156.4,445.3 156.6,443.2 156.7,445.1 156.9,445.2 157.0,443.0 157.2,447.4 157.4,443.3 157.5,443.6 157.7,444.7 157.8,443.6 158.0,445.1 158.1,442.9 158.3,443.5 158.5,442.9 158.6,443.7 158.8,444.4 158.9,444.5 159.1,442.4 159.2,442.9 159.3,442.6 159.5,443.0 159.7,441.8 159.8,443.5 159.9,442.8 160.1,442.2 160.3,441.4 160.4,442.2 160.6,442.4 160.7,444.9 160.9,443.2 161.1,443.7 161.2,445.5 161.4,443.6 161.5,446.2 161.7,443.8 161.8,441.2 162.0,444.7 162.2,443.3 162.3,445.3 162.5,444.7 162.6,446.1 162.8,445.2 162.9,445.6 163.1,444.9 163.2,445.5 163.4,445.9 163.6,445.2 163.7,445.6 163.9,446.8 164.0,447.6 164.2,445.5 164.3,444.0 164.5,446.0 164.7,446.9 164.8,445.5 164.9,448.0 165.1,445.9 165.2,444.7 165.4,445.9 165.6,444.6 165.7,444.9 165.9,445.5 166.0,444.1 166.2,445.8 166.3,443.5 166.5,443.0 166.6,442.6 166.8,442.9 166.9,442.1 167.1,442.5 167.2,441.7 167.4,442.0 167.6,442.0 167.7,440.9 167.9,442.1 168.0,440.9 168.2,439.8 168.4,441.0 168.5,436.8 168.7,436.6 168.8,440.3 169.0,439.7 169.1,441.4 169.3,439.9 169.5,440.8 169.6,439.6 169.8,440.6 169.9,441.9 170.1,440.4 170.2,441.5 170.4,439.8 170.6,439.9 170.7,439.8 170.8,439.3 171.0,439.4 171.2,441.8 171.3,440.5 171.4,438.5 171.6,439.3 171.8,440.8 171.9,438.5 172.1,437.8 172.2,438.9 172.4,438.3 172.5,438.5 172.7,435.0 172.9,438.1 173.0,439.1 173.2,434.9 173.3,435.6 173.5,433.3 173.6,434.8 173.8,434.2 174.0,434.9 174.1,435.3 174.2,436.1 174.4,434.6 174.6,433.9 174.7,436.5 174.8,433.0 175.0,436.0 175.2,434.6 175.3,433.8 175.5,434.6 175.6,433.0 175.8,433.4 175.9,432.0 176.1,432.0 176.3,431.0 176.4,430.8 176.6,428.2 176.7,427.7 176.9,427.3 177.0,425.7 177.2,424.0 177.3,422.6 177.5,421.0 177.6,418.9 177.8,417.0 177.9,415.9 178.1,414.2 178.2,412.4 178.3,411.4 178.5,410.3 178.6,409.3 178.8,408.6 178.9,407.6 179.1,406.6 179.2,405.8 179.3,405.2 179.5,405.5 179.6,405.8 179.7,406.4 179.9,406.9 180.0,407.8 180.2,408.8 180.3,409.9 180.5,410.7 180.6,411.1 180.7,414.3 180.9,417.2 181.0,420.6 181.2,424.2 181.3,427.3 181.5,428.3 181.6,429.5 181.8,430.7 181.9,431.8 182.1,433.1 182.2,433.3 182.3,434.8 182.5,436.0 182.7,433.9 182.8,436.9 183.0,437.5 183.1,437.0 183.3,436.0 183.4,438.5 183.6,437.9 183.7,438.5 183.9,439.8 184.1,439.9 184.2,442.5 184.3,440.4 184.5,441.5 184.7,441.1 184.8,441.5 184.9,440.7 185.1,441.3 185.2,443.3 185.4,442.7 185.5,442.7 185.7,443.5 185.9,446.9 186.0,445.0 186.2,443.2 186.3,443.8 186.5,444.1 186.6,443.1 186.8,444.1 187.0,443.8 187.1,445.3 187.3,442.9 187.4,447.9 187.6,444.7 187.8,443.7 187.9,443.8 188.1,442.1 188.2,445.3 188.4,444.4 188.6,441.2 188.7,442.9 188.9,442.4 189.0,442.6 189.2,441.7 189.3,444.2 189.5,441.6 189.7,441.0 189.8,442.9 189.9,441.5 190.1,442.6 190.2,442.2 190.4,442.6 190.6,442.8 190.7,443.1 190.9,441.1 191.0,441.2 191.2,446.0 191.3,443.5 191.5,442.5 191.6,442.6 191.8,441.9 191.9,442.6 192.1,445.2 192.2,441.4 192.4,440.9 192.6,440.7 192.7,438.0 192.9,438.8 193.0,437.9 193.2,439.8 193.4,439.6 193.5,443.5 193.7,439.2 193.8,440.7 194.0,440.0 194.1,438.5 194.3,442.3 194.5,440.1 194.6,440.4 194.8,442.8 194.9,441.3 195.1,442.2 195.3,441.5 195.4,444.5 195.6,441.7 195.7,443.8 195.9,442.4 196.1,443.1 196.2,442.7 196.4,442.9 196.5,445.3 196.7,443.5 196.8,444.3 197.0,441.0 197.2,441.7 197.3,439.2 197.4,439.1 197.6,437.0 197.8,438.4 197.9,437.3 198.1,436.3 198.2,435.1 198.4,433.9 198.5,432.4 198.7,430.9 198.8,430.0 198.9,428.3 199.1,428.5 199.2,428.3 199.3,427.0 199.4,391.0 199.6,390.6 199.7,390.7 199.9,391.8 200.0,391.1 200.2,390.2 200.3,389.5 200.5,389.0 200.5,310.0 200.6,308.9 200.8,310.0 200.9,309.0 200.9,290.4 201.0,290.3 201.2,290.5 201.3,290.2 201.4,290.4 201.4,298.0 201.5,298.7 201.7,298.1 201.8,298.8 202.0,299.2 202.1,299.0 202.1,389.0 202.2,388.5 202.4,391.6 202.5,391.0 202.6,427.3 202.8,428.6 202.9,429.9 203.1,430.9 203.2,432.2 203.3,433.3 203.5,434.8 203.7,436.1 203.8,437.3 204.0,438.5 204.1,439.0 204.2,438.8 204.4,439.4 204.6,441.1 204.7,443.8 204.8,440.8 205.0,442.2 205.2,441.8 205.3,441.2 205.5,444.4 205.6,438.2 205.8,442.7 205.9,441.7 206.1,440.4 206.3,441.0 206.4,440.1 206.6,440.5 206.7,439.8 206.9,439.8 207.1,441.7 207.2,440.1 207.3,441.3 207.5,440.8 207.7,440.5 207.8,443.6 207.9,440.3 208.1,443.0 208.2,444.7 208.4,442.9 208.5,442.2 208.7,442.2 208.9,442.4 209.0,443.8 209.2,441.8 209.3,442.8 209.5,442.5 209.6,442.8 209.8,441.4 210.0,441.7 210.1,439.7 210.3,439.4 210.4,439.6 210.6,441.0 210.8,441.9 210.9,441.3 211.1,443.5 211.2,440.5 211.4,441.5 211.6,443.9 211.7,443.0 211.9,442.7 212.0,444.6 212.2,443.4 212.3,447.2 212.5,444.7 212.7,444.1 212.8,444.0 213.0,443.2 213.1,443.2 213.3,442.1 213.5,442.2 213.6,441.2 213.8,440.8 213.9,440.4 214.1,439.8 214.2,438.8 214.4,437.8 214.6,436.8 214.7,435.7 214.8,434.4 215.0,433.6 215.1,434.7 215.3,435.7 215.4,436.7 215.5,437.7 215.7,438.9 215.8,439.8 216.0,440.3 216.1,441.5 216.3,441.4 216.4,442.4 216.6,443.4 216.8,443.2 216.9,444.3 217.1,444.6 217.2,444.9 217.4,446.0 217.6,445.7 217.7,446.1 217.9,444.8 218.0,447.4 218.2,441.6 218.4,444.2 218.5,444.2 218.7,444.0 218.8,443.6 219.0,440.9 219.1,442.9 219.3,443.5 219.5,443.0 219.6,444.1 219.8,443.5 219.9,444.5 220.1,443.9 220.2,443.7 220.4,443.1 220.6,443.6 220.7,445.9 220.9,444.4 221.0,444.2 221.2,444.7 221.3,443.7 221.5,445.6 221.6,444.6 221.8,444.3 221.9,444.6 222.1,442.8 222.2,443.8 222.4,441.2 222.6,443.2 222.7,442.2 222.8,442.8 223.0,442.2 223.2,441.7 223.3,442.4 223.5,443.4 223.6,445.2 223.8,443.1 223.9,442.7 224.1,442.7 224.3,444.7 224.4,446.0 224.6,441.6 224.7,444.7 224.9,445.3 225.1,444.3 225.2,447.7 225.4,444.2 225.5,443.6 225.7,446.3 225.9,449.0 226.0,446.5 226.2,444.4 226.3,445.6 226.5,445.9 226.6,447.5 226.8,446.0 227.0,446.5 227.1,443.6 227.2,445.3 227.4,445.9 227.6,445.0 227.7,445.1 227.8,447.1 228.0,447.3 228.2,445.2 228.3,444.1 228.4,443.2 228.6,443.5 228.8,442.1 228.9,441.8 229.1,442.9 229.2,443.0 229.4,443.2 229.6,443.3 229.7,440.8 229.9,440.7 230.0,439.8 230.2,440.5 230.3,442.2 230.5,439.8 230.6,438.8 230.8,437.4 230.9,436.0 231.1,435.5 231.2,434.0 231.3,433.1 231.5,432.0 231.6,430.9 231.8,429.9 231.9,428.9 232.1,428.9 232.2,429.3 232.4,428.6 232.5,428.7 232.7,428.8 232.8,430.0 233.0,431.3 233.1,432.9 233.3,434.4 233.4,435.7 233.5,438.4 233.7,440.8 233.8,443.3 234.0,443.2 234.1,442.9 234.2,444.3 234.4,443.7 234.6,441.9 234.7,444.2 234.9,447.3 235.0,442.3 235.2,447.5 235.3,444.3 235.5,442.6 235.6,443.5 235.8,446.7 235.9,446.4 236.1,442.5 236.2,443.9 236.4,443.4 236.5,442.7 236.7,442.8 236.8,443.1 237.0,442.2 237.1,440.6 237.3,440.9 237.4,441.0 237.6,440.2 237.7,439.5 237.9,439.7 238.0,440.3 238.2,438.6 238.3,437.6 238.5,437.4 238.6,440.4 238.8,440.1 238.9,441.4 239.1,440.4 239.3,440.9 239.4,439.8 239.6,439.9 239.7,439.8 239.9,439.7 240.1,440.0 240.2,439.5 240.4,439.2 240.5,439.3 240.7,438.9 240.8,438.9 241.0,438.8 241.2,438.4 241.3,438.9 241.4,439.0 241.6,439.1 241.8,439.2 241.9,439.2 242.1,439.4 242.2,439.0 242.3,439.6 242.5,439.5 242.7,439.6 242.8,439.7 243.0,438.9 243.1,437.3 243.3,440.6 243.4,439.8 243.6,441.5 243.8,438.4 243.9,439.8 244.1,439.5 244.2,438.2 244.4,438.0 244.6,440.0 244.7,439.9 244.9,438.0 245.0,438.7 245.2,440.2 245.3,441.0 245.5,441.8 245.6,442.0 245.8,442.4 246.0,443.6 246.1,442.9 246.3,440.4 246.4,441.4 246.6,443.0 246.7,442.1 246.9,437.9 247.0,441.3 247.2,440.9 247.4,439.6 247.5,440.8 247.7,444.1 247.8,438.9 248.0,441.7 248.1,440.6 248.3,443.6 248.4,441.8 248.6,438.6 248.7,440.8 248.9,441.7 249.0,439.9 249.2,440.4 249.4,440.7 249.5,439.4 249.7,439.1 249.8,439.4 250.0,439.1 250.1,441.9 250.3,438.6 250.5,439.0 250.6,438.9 250.8,439.3 250.9,441.3 251.1,438.5 251.3,438.5 251.4,439.3 251.6,436.6 251.7,438.0 251.9,436.4 252.0,438.5 252.2,437.2 252.3,435.6 252.5,436.6 252.6,435.6 252.8,433.9 252.9,432.5 253.1,430.6 253.2,430.2 253.4,428.4 253.5,427.0 253.7,426.1 253.8,423.9 253.9,423.3 254.1,421.9 254.2,420.7 254.4,419.4 254.6,418.7 254.7,418.0 254.9,417.4 255.0,415.9 255.2,415.4 255.3,415.7 255.5,415.0 255.6,415.4 255.7,415.1 255.9,416.3 256.0,416.8 256.1,417.5 256.2,419.4 256.4,421.0 256.5,422.6 256.7,424.6 256.8,426.1 256.9,428.2 257.1,426.7 257.2,426.8 257.4,427.8 257.5,426.2 257.7,430.2 257.8,427.0 257.9,427.7 258.1,428.2 258.2,430.2 258.4,430.6 258.6,431.7 258.7,432.8 258.8,433.5 259.0,432.7 259.1,434.7 259.3,435.2 259.4,434.6 259.6,437.1 259.7,437.6 259.9,437.6 260.0,436.7 260.2,438.7 260.3,437.8 260.5,435.3 260.6,439.6 260.8,438.1 260.9,436.8 261.1,438.5 261.3,437.9 261.4,437.7 261.6,436.0 261.7,437.8 261.9,437.1 262.1,437.2 262.2,438.4 262.4,436.8 262.5,434.8 262.7,436.8 262.8,437.2 263.0,437.6 263.1,436.2 263.3,437.0 263.4,437.8 263.6,437.1 263.8,435.6 263.9,436.1 264.1,435.7 264.2,434.8 264.4,435.0 264.5,433.7 264.6,432.8 264.8,433.1 264.9,431.8 265.1,431.8 265.2,431.2 265.4,429.9 265.5,427.8 265.7,430.6 265.8,426.8 266.0,429.0 266.1,429.1 266.3,429.7 266.4,426.5 266.6,428.8 266.8,427.8 266.9,428.0 267.1,425.5 267.2,427.4 267.4,428.0 267.5,425.8 267.7,428.6 267.8,425.0 268.0,426.5 268.1,426.7 268.3,427.0 268.5,425.0 268.6,428.7 268.8,429.3 268.9,428.3 269.1,425.7 269.2,427.6 269.4,426.1 269.6,425.9 269.7,426.8 269.9,424.6 270.0,422.9 270.2,426.1 270.4,428.0 270.5,425.8 270.7,426.9 270.8,425.9 271.0,424.5 271.1,426.1 271.3,425.1 271.5,424.4 271.6,423.0 271.8,425.9 271.9,425.5 272.1,426.1 272.2,425.5 272.4,428.2 272.6,426.6 272.7,425.8 272.9,424.5 273.0,425.6 273.2,425.2 273.3,424.6 273.5,423.7 273.6,424.2 273.8,423.6 273.9,423.3 274.1,422.8 274.2,422.8 274.4,422.0 274.5,421.7 274.7,421.5 274.8,420.8 275.0,420.3 275.1,419.7 275.3,419.5 275.4,419.7 275.5,418.4 275.7,418.4 275.8,418.2 276.0,418.9 276.1,419.7 276.3,420.2 276.4,420.7 276.6,421.2 276.7,421.6 276.9,422.2 277.0,420.9 277.2,423.9 277.3,422.4 277.5,425.8 277.6,424.4 277.8,423.5 277.9,427.0 278.0,430.5 278.2,426.2 278.3,427.6 278.5,425.6 278.6,430.8 278.8,424.6 278.9,428.0 279.0,428.7 279.2,429.7 279.4,428.4 279.5,425.9 279.6,427.0 279.8,429.8 279.9,428.6 280.1,428.6 280.2,427.7 280.4,427.3 280.6,426.3 280.7,425.6 280.8,426.2 281.0,426.5 281.1,427.2 281.3,428.7 281.4,429.1 281.6,429.2 281.7,429.8 281.9,430.7 282.0,430.6 282.2,429.5 282.3,429.3 282.5,431.0 282.6,432.9 282.8,433.7 283.0,430.3 283.1,428.8 283.3,430.4 283.4,429.0 283.6,431.0 283.8,434.4 283.9,430.8 284.1,432.5 284.2,430.8 284.4,433.9 284.6,431.6 284.7,432.8 284.9,432.1 285.0,432.7 285.2,430.3 285.3,430.5 285.5,432.3 285.6,432.3 285.8,434.3 285.9,434.9 286.1,434.1 286.2,434.1 286.4,432.0 286.6,436.3 286.7,434.8 286.9,435.0 287.0,434.6 287.2,435.3 287.3,433.3 287.5,434.0 287.6,434.0 287.8,434.0 288.0,431.6 288.1,433.5 288.3,434.3 288.4,432.8 288.6,432.3 288.8,431.1 288.9,433.6 289.1,430.2 289.2,430.7 289.4,432.4 289.5,431.2 289.6,430.5 289.8,431.5 289.9,430.8 290.1,428.8 290.2,429.3 290.4,429.8 290.5,430.3 290.7,429.9 290.8,426.7 291.0,428.2 291.1,428.2 291.3,426.9 291.4,424.9 291.6,426.3 291.7,426.0 291.9,424.1 292.0,421.2 292.1,418.3 292.3,416.1 292.4,411.8 292.6,406.9 292.8,401.9 292.9,397.4 293.0,396.0 293.2,394.6 293.3,393.2 293.4,393.2 293.6,393.2 293.7,393.2 293.8,395.5 294.0,397.8 294.1,400.0 294.2,407.0 294.4,413.6 294.5,415.1 294.7,417.4 294.9,418.4 295.0,419.8 295.1,421.4 295.3,421.9 295.4,422.5 295.6,423.5 295.7,424.5 295.9,425.3 296.0,426.0 296.1,427.9 296.3,426.7 296.4,427.4 296.6,427.6 296.7,430.5 296.9,430.9 297.0,429.8 297.2,430.2 297.3,431.0 297.4,429.6 297.6,433.7 297.8,431.1 297.9,433.1 298.1,430.8 298.2,430.4 298.4,431.0 298.5,431.6 298.7,431.2 298.8,429.7 299.0,429.9 299.1,429.8 299.3,432.1 299.4,430.2 299.6,431.3 299.7,430.7 299.9,431.9 300.1,429.2 300.2,427.9 300.4,429.8 300.5,431.5 300.7,431.6 300.8,434.5 301.0,432.3 301.2,435.3 301.3,430.4 301.5,432.4 301.6,431.1 301.8,431.8 301.9,430.1 302.1,430.8 302.3,426.4 302.4,429.4 302.6,428.7 302.7,428.2 302.9,428.5 303.0,428.3 303.2,428.4 303.3,428.4 303.5,428.4 303.6,428.5 303.8,428.5 303.9,428.8 304.1,428.3 304.2,428.0 304.4,428.2 304.6,428.1 304.7,428.1 304.9,428.0 305.0,428.2 305.2,428.3 305.3,428.7 305.5,428.3 305.6,428.9 305.8,429.0 306.0,428.4 306.1,429.2 306.3,430.2 306.4,429.7 306.6,429.8 306.8,428.1 306.9,430.4 307.1,430.9 307.2,429.4 307.4,430.6 307.6,430.2 307.7,431.3 307.9,432.4 308.0,431.0 308.2,430.7 308.3,430.9 308.5,432.3 308.6,432.6 308.8,430.6 308.9,432.7 309.1,433.6 309.2,433.5 309.4,433.3 309.6,429.7 309.7,433.0 309.9,432.5 310.0,433.3 310.2,432.3 310.3,433.5 310.5,432.5 310.6,436.1 310.8,435.5 310.9,432.8 311.1,435.5 311.2,432.8 311.4,434.6 311.6,438.5 311.7,437.4 311.9,435.5 312.0,436.3 312.2,436.0 312.4,435.8 312.5,437.3 312.7,435.9 312.8,435.6 313.0,435.3 313.1,436.9 313.3,436.8 313.5,438.3 313.6,435.8 313.8,437.9 313.9,439.1 314.1,437.2 314.2,437.9 314.4,436.0 314.6,436.4 314.7,436.0 314.9,437.4 315.0,438.5 315.1,436.8 315.3,438.0 315.4,435.9 315.6,438.7 315.8,436.9 315.9,438.5 316.1,439.0 316.2,438.1 316.4,436.7 316.5,437.7 316.7,436.6 316.9,436.7 317.0,436.5 317.2,435.5 317.3,435.6 317.5,436.2 317.6,436.3 317.8,434.8 318.0,436.2 318.1,435.6 318.3,437.0 318.4,434.9 318.6,439.5 318.8,434.4 318.9,438.4 319.1,438.1 319.2,437.3 319.4,438.7 319.5,440.5 319.7,438.5 319.8,437.6 320.0,439.0 320.1,435.5 320.3,439.3 320.4,437.1 320.6,439.5 320.8,436.5 320.9,439.1 321.1,440.6 321.2,439.0 321.4,442.2 321.5,439.7 321.7,439.7 321.8,438.9 322.0,441.8 322.1,438.8 322.3,440.1 322.4,442.0 322.6,442.0 322.8,440.2 322.9,439.4 323.1,440.2 323.2,439.8 323.4,440.3 323.6,439.6 323.7,439.4 323.9,438.7 324.0,436.9 324.2,439.7 324.4,435.5 324.5,438.6 324.7,437.9 324.8,438.3 325.0,437.9 325.1,437.4 325.3,437.2 325.4,438.1 325.6,437.7 325.7,439.2 325.9,438.0 326.0,438.0 326.2,439.3 326.3,439.2 326.5,438.5 326.6,437.6 326.8,438.0 326.9,436.3 327.1,438.6 327.2,438.3 327.4,438.9 327.6,436.4 327.7,436.7 327.9,438.3 328.0,438.6 328.2,436.2 328.3,435.4 328.5,437.6 328.6,437.6 328.8,435.9 328.9,436.5 329.1,438.0 329.3,437.3 329.4,435.1 329.6,437.4 329.7,435.9 329.9,438.5 330.0,439.6 330.2,439.5 330.4,439.5 330.5,439.4 330.7,438.7 330.8,437.6 331.0,439.0 331.2,442.2 331.3,441.2 331.5,440.6 331.6,440.8 331.8,441.4 331.9,441.9 332.1,441.1 332.3,440.4 332.4,441.9 332.6,441.3 332.7,440.4 332.9,440.4 333.0,439.9 333.2,440.9 333.3,443.3 333.5,441.5 333.6,439.7 333.8,439.4 334.0,440.1 334.1,439.6 334.3,439.4 334.4,441.1 334.6,440.0 334.7,440.5 334.9,440.0 335.0,443.5 335.2,440.3 335.4,440.5 335.5,439.2 335.7,441.2 335.8,440.0 336.0,440.5 336.1,440.1 336.3,440.7 336.4,440.3 336.6,440.4 336.7,439.8 336.9,443.2 337.0,440.1 337.2,440.5 337.3,440.9 337.5,441.1 337.7,439.7 337.8,440.2 338.0,440.6 338.1,440.8 338.3,440.6 338.4,440.2 338.6,440.8 338.7,440.9 338.9,439.6 339.0,439.4 339.2,440.2 339.3,439.6 339.5,440.7 339.6,436.4 339.8,439.5 340.0,439.6 340.1,439.2 340.3,438.7 340.4,440.7 340.6,438.7 340.7,440.3 340.9,440.6 341.0,442.0 341.2,438.2 341.3,438.4 341.5,437.9 341.6,439.1 341.8,441.0 341.9,439.8 342.1,439.5 342.3,438.2 342.4,437.6 342.6,439.4 342.7,438.7 342.9,435.1 343.0,438.2 343.2,436.8 343.3,437.0 343.5,435.8 343.6,440.1 343.8,436.6 343.9,436.7 344.1,435.4 344.2,435.7 344.4,435.7 344.6,435.9 344.7,436.1 344.9,436.9 345.0,434.7 345.2,434.5 345.3,434.9 345.5,434.6 345.6,435.8 345.8,434.5 345.9,434.4 346.1,434.6 346.2,434.6 346.4,434.1 346.5,431.1 346.7,434.2 346.9,434.9 347.0,433.2 347.2,435.8 347.3,434.2 347.5,434.4 347.6,435.2 347.8,436.8 347.9,435.2 348.1,435.5 348.2,435.6 348.4,434.5 348.5,435.5 348.7,437.8 348.8,438.2 349.0,436.5 349.1,435.7 349.3,437.7 349.4,432.7 349.6,436.1 349.8,432.7 349.9,435.0 350.1,434.7 350.2,434.5 350.4,436.4 350.5,434.2 350.7,434.0 350.8,431.5 351.0,433.3 351.1,435.4 351.3,433.7 351.4,433.2 351.6,434.4 351.7,438.2 351.9,435.5 352.0,434.6 352.2,436.2 352.3,435.8 352.5,436.3 352.6,439.5 352.8,436.5 353.0,437.0 353.1,436.6 353.3,439.6 353.4,436.5 353.6,436.4 353.7,437.6 353.9,438.7 354.0,437.0 354.2,436.2 354.3,436.3 354.5,433.4 354.6,435.8 354.8,437.2 354.9,436.5 355.1,436.5 355.3,437.5 355.4,436.7 355.6,436.3 355.7,436.9 355.9,436.0 356.0,436.2 356.2,435.7 356.3,435.3 356.5,436.2 356.6,433.7 356.8,438.1 356.9,437.5 357.1,436.1 357.2,434.9 357.4,434.9 357.6,434.8 357.7,434.6 357.9,434.7 358.0,434.0 358.2,435.5 358.3,435.9 358.5,434.6 358.6,435.6 358.8,434.0 358.9,435.6 359.1,437.0 359.2,434.7 359.4,436.6 359.5,434.8 359.7,434.2 359.8,434.5 360.0,433.9 360.1,431.9 360.3,432.4 360.4,434.4 360.6,432.4 360.7,433.6 360.9,432.0 361.0,433.5 361.2,434.9 361.3,432.6 361.5,432.3 361.6,431.4 361.8,431.8 361.9,431.3 362.1,431.3 362.2,430.4 362.4,430.4 362.5,430.7 362.7,431.7 362.9,432.0 363.0,432.7 363.1,432.8 363.3,433.3 363.5,434.2 363.6,434.2 363.8,434.6 363.9,432.9 364.1,433.5 364.2,431.5 364.4,433.4 364.5,432.2 364.7,434.7 364.8,435.2 365.0,436.2 365.1,435.0 365.3,434.3 365.4,436.9 365.6,437.1 365.7,438.3 365.9,435.7 366.1,433.0 366.2,435.9 366.4,436.0 366.5,435.8 366.7,434.8 366.8,437.3 367.0,435.8 367.1,433.4 367.3,435.4 367.4,436.2 367.6,434.9 367.7,436.4 367.9,434.9 368.0,435.6 368.2,435.7 368.4,435.4 368.5,434.8 368.7,437.4 368.8,436.0 369.0,437.1 369.1,438.0 369.3,436.3 369.4,433.8 369.6,437.1 369.7,436.6 369.9,438.6 370.0,436.6 370.2,438.2 370.3,435.2 370.5,438.0 370.7,437.4 370.8,437.1 371.0,438.9 371.1,438.0 371.3,438.1 371.4,436.1 371.6,437.2 371.7,438.9 371.9,437.7 372.0,438.1 372.2,437.4 372.3,436.6 372.5,438.9 372.6,436.7 372.8,437.2 372.9,436.4 373.1,437.7 373.2,436.0 373.4,438.3 373.6,438.2 373.7,437.6 373.9,437.9 374.0,438.0 374.2,437.9 374.3,436.3 374.5,436.3 374.6,437.5 374.8,434.7 374.9,436.9 375.1,437.4 375.2,437.9 375.4,437.7 375.6,436.7 375.7,438.2 375.9,438.3 376.0,437.8 376.2,437.9 376.3,436.8 376.5,438.3 376.6,437.5 376.8,436.4 376.9,437.6 377.1,437.2 377.2,437.7 377.4,437.8 377.6,437.8 377.7,438.8 377.9,438.9 378.0,438.8 378.2,437.1 378.3,438.4 378.5,442.0 378.6,439.5 378.8,439.0 378.9,439.1 379.1,437.4 379.2,438.4 379.4,438.2 379.6,438.3 379.7,439.7 379.9,436.9 380.0,436.3 380.2,435.4 380.3,435.7 380.5,435.7 380.7,437.7 380.8,435.2 381.0,435.2 381.1,435.1 381.3,434.2 381.5,431.5 381.6,434.2 381.8,435.2 381.9,433.6 382.1,434.7 382.2,436.7 382.4,436.8 382.6,435.6 382.7,435.8 382.9,438.4 383.0,437.6 383.2,438.0 383.4,437.7 383.5,437.7 383.7,437.5 383.8,437.9 384.0,436.6 384.2,436.9 384.3,436.5 384.5,436.2 384.6,436.1 384.8,435.2 384.9,435.4 385.1,435.1 385.3,435.4 385.4,435.2 385.6,434.7 385.7,434.5 385.9,434.6 386.1,434.1 386.2,433.9 386.4,434.3 386.5,433.6 386.7,433.4 386.9,433.5 387.0,433.7 387.2,433.2 387.3,433.8 387.5,434.2 387.6,434.2 387.8,434.6 388.0,434.3 388.1,434.5 388.3,434.5 388.4,434.6 388.6,434.9 388.8,433.7 388.9,434.6 389.1,434.7 389.2,435.8 389.4,436.0 389.5,437.1 389.7,437.4 389.8,437.1 390.0,437.6 390.1,437.4 390.3,437.3 390.4,438.0 390.6,438.5 390.7,440.6 390.9,438.8 391.1,439.4 391.2,436.6 391.4,438.4 391.5,436.4 391.7,437.8 391.8,438.4 392.0,437.5 392.2,435.6 392.3,436.5 392.5,435.6 392.6,436.5 392.8,436.4 393.0,436.2 393.1,435.1 393.3,435.4 393.4,434.2 393.6,436.4 393.7,436.2 393.9,434.2 394.1,432.1 394.2,434.8 394.4,435.5 394.5,434.6 394.7,433.1 394.8,432.7 395.0,436.4 395.1,433.2 395.3,436.3 395.4,437.5 395.6,435.1 395.7,437.7 395.9,437.4 396.0,437.5 396.2,438.0 396.4,437.8 396.5,437.4 396.7,438.6 396.8,437.7 397.0,437.0 397.1,435.9 397.3,436.9 397.4,439.8 397.6,437.9 397.7,434.8 397.9,436.0 398.0,436.1 398.2,435.8 398.3,434.6 398.5,435.7 398.7,435.0 398.8,436.0 399.0,436.5 399.1,436.6 399.3,436.6 399.4,436.7 399.6,433.4 399.7,435.8 399.9,436.3 400.0,436.1 400.2,436.6 400.3,436.7 400.5,436.7 400.6,434.1 400.8,437.2 401.0,438.4 401.1,439.4 401.3,437.6 401.4,436.9 401.6,437.4 401.7,439.0 401.9,437.8 402.0,438.1 402.2,438.1 402.3,440.5 402.5,438.1 402.6,436.5 402.8,437.9 402.9,439.5 403.1,438.0 403.3,436.9 403.4,436.1 403.6,436.1 403.7,436.3 403.9,437.1 404.0,438.7 404.2,438.2 404.3,438.5 404.5,438.1 404.6,437.7 404.8,438.7 404.9,437.1 405.1,437.7 405.2,437.8 405.4,438.0 405.6,438.4 405.7,438.6 405.9,438.1 406.0,438.2 406.2,437.5 406.3,438.2 406.5,439.0 406.6,437.9 406.8,438.6 406.9,438.0 407.1,438.0 407.2,438.2 407.4,436.9 407.5,437.3 407.7,438.0 407.9,436.9 408.0,437.6 408.2,437.6 408.3,437.5 408.5,436.1 408.6,436.2 408.8,435.3 408.9,436.4 409.1,435.7 409.2,435.1 409.4,434.7 409.5,437.1 409.7,434.9 409.9,435.2 410.0,438.5 410.2,435.5 410.3,435.5 410.5,437.0 410.6,438.3 410.8,436.2 411.0,438.6 411.1,438.0 411.3,439.5 411.4,440.3 411.6,438.8 411.8,438.6 411.9,440.5 412.1,437.8 412.2,438.5 412.4,438.4 412.5,437.9 412.7,438.4 412.8,439.0 413.0,437.0 413.1,438.2 413.3,438.3 413.4,437.4 413.6,438.4 413.7,437.5 413.9,438.0 414.1,438.1 414.2,438.1 414.4,438.6 414.5,439.7 414.7,439.6 414.8,438.0 415.0,437.5 415.1,437.4 415.3,438.7 415.4,438.6 415.6,438.7 415.7,438.9 415.9,438.1 416.0,439.3 416.2,438.0 416.4,438.2 416.5,438.0 416.7,438.6 416.8,437.8 417.0,438.0 417.1,438.9 417.3,436.9 417.5,437.6 417.6,436.4 417.8,436.7 417.9,437.8 418.1,436.5 418.3,439.3 418.4,439.0 418.6,438.1 418.7,438.8 418.9,439.3 419.1,438.6 419.2,438.1 419.4,436.3 419.5,440.0 419.7,440.3 419.8,440.5 420.0,440.3 420.1,440.7 420.3,441.1 420.4,441.5 420.6,441.3 420.8,441.8 420.9,441.0 421.1,442.0 421.2,442.4 421.4,442.5 421.5,442.6 421.7,441.9 421.8,441.2 422.0,442.4 422.1,440.8 422.3,442.6 422.4,440.8 422.6,442.2 422.8,441.1 422.9,442.6 423.1,440.4 423.2,440.0 423.4,441.1 423.6,441.3 423.7,440.2 423.9,440.3 424.0,440.5 424.2,439.6 424.3,439.6 424.5,439.7 424.7,439.6 424.8,438.9 425.0,438.1 425.1,440.4 425.3,437.6 425.4,441.5 425.6,439.4 425.8,438.2 425.9,439.1 426.1,436.2 426.2,437.8 426.4,437.3 426.5,437.0 426.7,437.2 426.8,438.8 427.0,435.6 427.1,439.1 427.3,436.8 427.4,438.9 427.6,438.4 427.8,439.1 427.9,440.9 428.1,440.4 428.2,438.6 428.4,439.8 428.5,440.4 428.7,441.2 428.8,441.0 429.0,438.1 429.1,442.0 429.3,441.8 429.4,442.8 429.6,440.0 429.8,440.0 429.9,441.5 430.1,440.6 430.2,439.9 430.4,437.6 430.5,439.7 430.7,440.3 430.9,440.5 431.0,440.4 431.2,439.4 431.3,441.0 431.5,439.3 431.6,439.2 431.8,438.8 431.9,438.6 432.1,438.3 432.3,439.2 432.4,438.1 432.6,437.3 432.7,437.7 432.9,439.1 433.0,437.7 433.2,437.2 433.4,436.0 433.5,437.3 433.7,437.5 433.8,434.8 434.0,439.8 434.1,439.3 434.3,436.7 434.5,438.2 434.6,437.8 434.8,437.6 434.9,437.9 435.1,438.5 435.2,437.9 435.4,438.3 435.6,438.0 435.7,438.0 435.9,438.0 436.0,437.7 436.1,437.4 436.3,437.1 436.4,437.3 436.6,437.1 436.8,437.1 436.9,436.8 437.1,436.9 437.2,437.2 437.4,438.4 437.5,438.6 437.7,438.7 437.9,439.6 438.0,439.5 438.2,440.4 438.3,440.9 438.5,441.4 438.6,441.4 438.8,442.2 439.0,443.3 439.1,443.3 439.3,444.1 439.4,441.6 439.6,440.3 439.8,442.9 439.9,440.3 440.1,440.2 440.2,439.7 440.4,438.4 440.5,439.8 440.7,438.5 440.8,438.9 441.0,438.0 441.1,438.5 441.3,437.8 441.4,438.8 441.6,441.8 441.8,438.8 441.9,438.9 442.1,439.9 442.2,437.8 442.4,438.2 442.5,439.9 442.7,438.4 442.8,439.8 443.0,440.4 443.1,439.7 443.3,439.8 443.4,438.3 443.6,439.1 443.7,439.9 443.9,441.8 444.0,440.2 444.2,440.4 444.4,440.2 444.5,439.7 444.7,440.3 444.8,437.3 445.0,440.0 445.1,441.0 445.3,439.5 445.4,440.5 445.6,440.3 445.8,440.7 445.9,439.3 446.1,441.2 446.2,439.6 446.4,442.2 446.5,439.8 446.7,440.2 446.9,441.8 447.0,440.8 447.2,439.9 447.3,439.1 447.5,440.1 447.6,440.0 447.8,438.1 447.9,439.5 448.1,439.7 448.3,441.3 448.4,439.9 448.6,439.1 448.7,440.3 448.9,440.0 449.0,441.6 449.2,440.3 449.4,438.0 449.5,439.5 449.7,439.7 449.8,442.5 450.0,440.4 450.1,440.5 450.3,443.3 450.4,440.2 450.6,441.0 450.8,441.1 450.9,442.6 451.1,442.1 451.2,439.8 451.4,440.5 451.5,440.0 451.7,440.8 451.9,439.8 452.0,439.4 452.2,439.7 452.3,439.0 452.5,440.5 452.6,439.5 452.8,439.7 452.9,439.3 453.1,439.7 453.3,439.4 453.4,439.2 453.6,439.2 453.7,439.8 453.9,438.5 454.0,439.6 454.2,438.9 454.4,437.8 454.5,437.9 454.7,440.2 454.8,436.9 455.0,438.3 455.1,439.8 455.3,437.2 455.4,437.9 455.6,438.5 455.8,438.0 455.9,439.4 456.1,437.3 456.2,440.3 456.4,437.4 456.5,438.6 456.7,439.1 456.9,438.6 457.0,438.5 457.2,438.4 457.3,438.0 457.5,441.3 457.6,438.3 457.8,438.8 457.9,438.6 458.1,438.5 458.3,440.5 458.4,437.8 458.6,437.3 458.7,439.5 458.9,438.1 459.0,438.3 459.2,438.2 459.4,438.5 459.5,438.7 459.7,438.1 459.8,434.8 460.0,438.4 460.1,435.5 460.3,438.4 460.4,434.5 460.6,437.2 460.8,438.2 460.9,438.1 461.1,435.8 461.2,439.0 461.4,438.9 461.5,438.0 461.6,440.5 461.8,439.9 461.9,440.0 462.1,442.1 462.2,440.0 462.4,441.0 462.5,439.5 462.7,440.9 462.8,438.0 463.0,439.1 463.1,436.9 463.3,437.7 463.4,436.0 463.6,435.7 463.7,434.8 463.8,433.1 464.0,431.2 464.1,429.5 464.3,427.7 464.4,425.6 464.6,424.5 464.7,422.3 464.8,419.9 465.0,416.8 465.1,414.2 465.2,411.7 465.4,409.3 465.5,406.5 465.6,406.1 465.8,405.3 465.9,405.9 466.0,404.1 466.2,404.8 466.3,404.0 466.5,397.1 466.6,390.1 466.7,389.8 466.9,390.2 467.0,390.1 467.1,397.1 467.2,404.0 467.3,407.1 467.5,405.1 467.6,406.2 467.7,408.7 467.9,406.8 468.0,408.6 468.1,410.9 468.3,412.4 468.4,414.4 468.6,417.3 468.7,418.3 468.9,420.2 469.0,422.3 469.1,424.4 469.3,427.0 469.4,429.2 469.6,431.3 469.8,433.7 469.9,436.0 470.1,435.6 470.2,437.1 470.4,436.0 470.5,436.5 470.7,437.8 470.8,435.9 471.0,438.4 471.1,436.6 471.3,437.0 471.4,436.3 471.6,437.3 471.7,437.4 471.9,437.2 472.0,438.2 472.2,437.2 472.4,437.2 472.5,434.4 472.7,438.6 472.8,437.3 473.0,437.4 473.1,437.4 473.3,435.2 473.5,436.8 473.6,435.8 473.8,437.5 473.9,438.2 474.1,437.5 474.2,438.0 474.4,437.2 474.6,436.7 474.7,434.7 474.9,436.5 475.0,435.7 475.2,436.0 475.3,435.6 475.5,435.2 475.6,436.2 475.8,435.7 475.9,436.3 476.1,437.3 476.2,439.7 476.4,436.7 476.6,439.4 476.7,438.7 476.9,438.6 477.0,441.2 477.2,439.3 477.3,439.7 477.5,437.5 477.6,438.8 477.8,439.6 477.9,440.5 478.1,440.3 478.2,440.7 478.4,437.8 478.6,440.0 478.7,440.8 478.9,441.1 479.0,440.8 479.2,440.3 479.3,440.7 479.5,441.2 479.7,441.8 479.8,441.8 480.0,440.8 480.1,443.3 480.3,439.5 480.4,440.9 480.6,441.4 480.8,442.4 480.9,441.8 481.1,442.0 481.2,443.6 481.4,441.6 481.5,441.0 481.7,441.9 481.9,441.8 482.0,442.1 482.2,441.0 482.3,440.1 482.5,442.6 482.6,445.0 482.8,443.8 483.0,442.1 483.1,442.3 483.3,443.3 483.4,445.2 483.6,442.2 483.7,444.4 483.9,442.6 484.1,442.9 484.2,441.5 484.4,442.3 484.5,439.5 484.7,442.0 484.8,442.2 485.0,442.8 485.2,441.6 485.3,442.2 485.5,442.1 485.6,441.8 485.8,441.9 485.9,441.5 486.1,441.5 486.2,441.7 486.4,441.5 486.6,443.0 486.7,440.4 486.9,442.7 487.0,442.2 487.1,438.9 487.3,442.2 487.4,441.5 487.6,441.8 487.8,441.8 487.9,442.4 488.1,441.8 488.2,441.9 488.4,442.2 488.5,441.2 488.7,440.3 488.8,442.2 489.0,444.7 489.1,440.4 489.3,443.3 489.5,441.7 489.6,442.2 489.8,441.4 489.9,442.3 490.1,441.8 490.2,442.6 490.4,441.9 490.6,441.4 490.7,441.5 490.9,442.0 491.0,440.5 491.2,444.1 491.3,441.8 491.5,443.9 491.7,440.7 491.8,441.9 492.0,440.7 492.1,439.9 492.3,441.2 492.4,441.2 492.6,441.2 492.8,441.2 492.9,440.9 493.1,440.1 493.2,441.1 493.4,440.2 493.5,440.1 493.7,441.1 493.9,440.7 494.0,440.7 494.2,441.6 494.3,441.0 494.5,439.3 494.6,442.2 494.8,439.7 495.0,439.6 495.1,439.6 495.3,438.9 495.4,439.1 495.6,439.3 495.7,436.9 495.9,439.4 496.1,438.6 496.2,439.1 496.4,439.1 496.5,438.7 496.7,436.9 496.8,438.4 497.0,438.2 497.1,438.0 497.3,438.0 497.4,437.8 497.6,437.5 497.8,437.4 497.9,436.9 498.1,437.1 498.2,437.3 498.4,436.9 498.5,436.6 498.7,436.2 498.8,436.1 499.0,437.2 499.1,437.5 499.3,438.1 499.4,439.0 499.6,440.0 499.7,440.6 499.9,441.2 500.0,441.9 500.2,438.6 500.3,442.8 500.5,441.8 500.6,440.1 500.8,441.4 500.9,438.9 501.1,439.2 501.2,438.4 501.4,439.0 501.6,439.1 501.7,440.0 501.9,439.9 502.0,436.6 502.2,438.4 502.3,437.6 502.5,436.6 502.6,438.3 502.8,436.8 502.9,436.7 503.1,436.0 503.2,436.3 503.4,436.3 503.6,436.3 503.7,435.7 503.9,435.8 504.0,435.3 504.2,435.8 504.3,435.4 504.4,434.7 504.6,436.1 504.8,435.6 504.9,435.8 505.1,435.8 505.2,435.8 505.4,435.8 505.5,435.8 505.7,435.9 505.8,436.1 506.0,435.1 506.1,436.2 506.3,437.4 506.4,437.5 506.6,437.8 506.7,438.1 506.9,440.1 507.0,439.6 507.2,439.0 507.4,438.6 507.5,439.3 507.7,441.5 507.8,438.9 508.0,439.9 508.1,439.9 508.3,440.0 508.5,439.9 508.6,440.4 508.8,439.8 508.9,441.8 509.1,440.3 509.2,440.0 509.4,440.4 509.6,440.7 509.7,440.9 509.9,442.1 510.0,441.0 510.2,440.8 510.3,440.6 510.5,440.8 510.7,440.6 510.8,441.3 511.0,442.2 511.1,441.4 511.3,440.6 511.4,439.3 511.6,441.5 511.8,442.7 511.9,441.2 512.1,442.1 512.2,443.6 512.4,443.6 512.5,442.1 512.7,443.5 512.9,442.0 513.0,443.9 513.2,442.6 513.3,440.9 513.5,443.2 513.6,441.6 513.8,442.6 514.0,445.4 514.1,440.7 514.3,443.2 514.4,441.7 514.6,442.7 514.7,442.4 514.9,443.7 515.1,442.1 515.2,443.1 515.4,444.3 515.5,441.0 515.7,443.0 515.8,441.2 516.0,442.6 516.2,443.3 516.3,443.7 516.5,441.8 516.6,444.0 516.8,442.8 516.9,442.6 517.1,445.2 517.2,442.9 517.4,442.5 517.5,442.9 517.7,444.6 517.8,446.1 518.0,443.4 518.2,443.4 518.3,443.5 518.5,443.7 518.6,444.5 518.8,440.8 518.9,444.3 519.1,446.0 519.2,443.5 519.4,443.6 519.5,445.7 519.7,443.6 519.8,443.6 520.0,444.9 520.1,443.9 520.3,444.2 520.4,443.5 520.6,444.4 520.7,443.8 520.9,444.1 521.1,444.7 521.2,444.0 521.4,445.4 521.5,444.0 521.7,444.9 521.8,443.8 522.0,444.2 522.1,443.3 522.3,443.9 522.4,444.0 522.6,442.9 522.7,443.7 522.9,445.1 523.0,442.9 523.2,443.5 523.3,444.4 523.5,443.3 523.6,441.2 523.8,443.4 524.0,443.4 524.1,443.3 524.3,444.9 524.4,443.7 524.6,444.0 524.7,443.2 524.9,444.7 525.1,444.3 525.2,442.0 525.4,443.7 525.5,444.7 525.7,443.7 525.9,445.7 526.0,442.9 526.2,443.6 526.3,443.5 526.5,443.0 526.6,444.1 526.8,443.4 527.0,443.2 527.1,443.6 527.3,443.9 527.4,443.7 527.6,441.9 527.7,441.4 527.9,443.9 528.0,443.3 528.2,442.0 528.3,441.9 528.5,442.9 528.6,442.1 528.8,444.4 528.9,442.2 529.1,444.5 529.2,443.2 529.4,442.8 529.5,443.0 529.7,442.6 529.9,443.0 530.0,442.1 530.2,442.5 530.3,440.8 530.5,440.5 530.6,444.1 530.8,443.3 530.9,442.9 531.1,441.0 531.2,442.5 531.4,442.6 531.5,442.0 531.7,441.9 531.8,442.6 532.0,439.2 532.1,442.0 532.3,441.4 532.4,441.8 532.6,441.9 532.8,442.1 532.9,442.1 533.1,443.5 533.2,443.7 533.4,443.3 533.5,443.6 533.7,443.0 533.9,442.7 534.0,444.1 534.2,442.3 534.3,443.8 534.5,444.0 534.6,442.7 534.8,444.1 535.0,443.3 535.1,444.3 535.3,445.0 535.4,443.7 535.6,443.9 535.7,444.2 535.9,443.9 536.1,443.6 536.2,443.9 536.4,444.0 536.5,444.3 536.7,443.6 536.8,443.8 537.0,443.4 537.2,442.6 537.3,442.5 537.5,444.2 537.6,442.8 537.8,443.3 537.9,444.6 538.1,442.4 538.2,443.8 538.4,442.8 538.5,443.6 538.7,444.2 538.8,444.2 539.0,444.0 539.1,443.4 539.3,443.5 539.4,442.5 539.6,442.2 539.7,443.9 539.9,443.4 540.1,441.6 540.2,445.0 540.4,442.6 540.5,443.9 540.7,443.3 540.8,443.6 541.0,444.0 541.1,443.0 541.3,444.2 541.4,444.0 541.6,443.5 541.7,443.5 541.9,443.2 542.0,445.6 542.2,443.2 542.3,442.8 542.5,443.5 542.6,444.9 542.8,443.4 543.0,445.0 543.1,443.7 543.3,443.5 543.4,444.3 543.6,444.0 543.7,444.8 543.9,445.0 544.1,444.6 544.2,446.6 544.4,444.7 544.5,446.9 544.7,444.9 544.8,444.0 545.0,444.8 545.2,445.0 545.3,445.3 545.5,444.5 545.6,443.7 545.8,444.3 545.9,445.2 546.1,443.7 546.3,441.6 546.4,445.5 546.6,446.6 546.7,445.3 546.9,444.9 547.0,444.6 547.2,444.1 547.4,444.1 547.5,444.3 547.7,444.5 547.8,443.6 548.0,443.1 548.1,444.2 548.3,443.9 548.5,446.5 548.6,443.5 548.8,443.4 548.9,442.4 549.1,440.7 549.2,442.4 549.4,443.4 549.6,443.6 549.7,445.6 549.9,442.4 550.0,442.7 550.2,444.0 550.3,443.3 550.5,441.8 550.7,445.0 550.8,442.9 551.0,443.8 551.1,444.5 551.3,444.7 551.4,446.0 551.6,444.1 551.8,444.3 551.9,443.2 552.1,442.8 552.2,444.6 552.4,444.4 552.5,443.8 552.7,443.6 552.9,444.2 553.0,444.1 553.2,444.3 553.3,444.4 553.5,445.3 553.6,444.7 553.8,444.8 553.9,445.9 554.1,445.2 554.2,444.9 554.4,447.0 554.5,446.0 554.7,446.8 554.9,445.5 555.0,448.6 555.1,446.7 555.3,446.4 555.5,446.3 555.6,447.0 555.8,444.9 555.9,443.2 556.1,443.8 556.2,443.3 556.4,442.9 556.5,441.8 556.7,441.2 556.9,439.2 557.0,440.0 557.2,438.3 557.3,438.8 557.5,440.3 557.6,440.9 557.8,439.6 557.9,441.7 558.1,440.4 558.2,441.0 558.4,440.2 558.6,439.5 558.7,439.6 558.9,439.7 559.0,440.0 559.1,440.1 559.3,439.4 559.5,439.4 559.6,439.0 559.8,438.5 559.9,438.7 560.1,438.5 560.2,438.2 560.4,438.2 560.5,438.1 560.7,437.9 560.9,440.8 561.0,437.4 561.2,439.2 561.3,439.3 561.5,440.1 561.6,441.0 561.8,441.9 562.0,441.8 562.1,444.1 562.3,441.9 562.4,442.3 562.6,441.6 562.7,441.9 562.9,442.0 563.1,442.9 563.2,442.5 563.4,442.5 563.5,443.1 563.7,440.5 563.8,444.3 564.0,443.4 564.2,441.5 564.3,443.0 564.5,445.9 564.6,442.1 564.8,440.9 564.9,442.7 565.1,442.9 565.3,442.3 565.4,441.8 565.6,442.7 565.7,442.4 565.9,441.8 566.0,442.2 566.2,441.9 566.4,442.8 566.5,441.9 566.7,441.7 566.8,442.1 567.0,441.9 567.2,440.6 567.3,443.2 567.5,440.8 567.6,442.4 567.8,441.8 567.9,442.6 568.1,441.9 568.3,442.7 568.4,441.9 568.6,441.3 568.7,442.5 568.9,441.9 569.1,442.8 569.2,442.0 569.4,443.6 569.5,442.5 569.7,443.7 569.8,441.4 570.0,443.9 570.1,442.8 570.3,444.0 570.4,442.0 570.6,442.4 570.7,443.6 570.9,442.7 571.0,442.0 571.2,442.0 571.3,444.3 571.5,442.9 571.6,440.8 571.8,442.6 571.9,442.3 572.1,443.1 572.2,442.4 572.4,443.3 572.5,443.9 572.7,442.3 572.8,443.4 573.0,445.3 573.1,442.3 573.3,444.5 573.5,443.2 573.6,445.2 573.8,444.6 573.9,444.1 574.1,445.1 574.2,443.3 574.4,441.1 574.5,444.7 574.7,444.0 574.8,443.4 575.0,443.8 575.1,442.1 575.3,443.1 575.4,443.5 575.6,444.3 575.7,442.9 575.9,441.5 576.0,441.7 576.2,443.0 576.4,442.5 576.5,443.0 576.7,443.1 576.8,443.0 577.0,443.6 577.1,442.7 577.3,442.6 577.4,442.3 577.6,442.4 577.7,442.4 577.9,444.3 578.0,440.9 578.2,441.9 578.3,440.4 578.5,440.7 578.6,442.8 578.8,441.2 579.0,441.1 579.1,441.5 579.3,440.8 579.4,441.6 579.6,439.2 579.7,441.9 579.9,443.7 580.0,442.3 580.2,442.3 580.4,442.2 580.5,441.8 580.7,442.9 580.8,442.1 581.0,442.1 581.1,442.6 581.3,442.6 581.5,444.9 581.6,443.0 581.8,442.8 581.9,441.3 582.1,443.2 582.2,442.2 582.4,442.5 582.5,442.4 582.7,442.9 582.8,440.0 583.0,440.8 583.1,441.6 583.3,441.3 583.4,442.4 583.6,440.8 583.7,440.6 583.9,441.9 584.1,441.9 584.2,440.1 584.4,442.4 584.5,441.3 584.7,441.1 584.8,441.6 585.0,443.8 585.1,440.8 585.3,440.6 585.4,440.9 585.6,441.7 585.7,442.6 585.9,439.9 586.0,438.5 586.2,440.3 586.3,440.3 586.5,441.1 586.6,440.8 586.8,440.4 587.0,441.0 587.1,440.3 587.3,440.5 587.4,442.4 587.6,438.9 587.7,438.3 587.9,438.1 588.0,441.7 588.2,441.0 588.3,441.4 588.5,441.4 588.6,442.0 588.8,441.3 588.9,441.0 589.1,440.2 589.2,441.3 589.4,441.5 589.5,440.9 589.7,443.3 589.9,442.5 590.0,441.6 590.1,442.2 590.3,442.3 590.5,442.6 590.6,444.4 590.8,442.2 590.9,443.1 591.0,443.0 591.2,445.0 591.4,442.6 591.5,443.4 591.7,443.7 591.8,442.0 592.0,443.5 592.1,445.4 592.3,443.9 592.4,441.2 592.6,446.1 592.8,443.5 592.9,443.5 593.1,445.2 593.2,443.5 593.4,442.7 593.6,443.3 593.7,444.0 593.9,443.2 594.0,442.5 594.2,443.2 594.3,442.1 594.5,443.4 594.7,442.2 594.8,442.5 595.0,443.7 595.1,443.4 595.3,443.1 595.4,444.5 595.6,444.3 595.8,445.0 595.9,443.4 596.1,444.6 596.2,444.0 596.4,444.6 596.5,444.6 596.7,444.8 596.9,444.9 597.0,444.9 597.2,446.3 597.3,445.0 597.5,444.5 597.6,445.5 597.8,443.9 597.9,445.4 598.1,444.9 598.2,444.3 598.4,445.4 598.5,443.6 598.7,442.7 598.8,444.3 599.0,444.8 599.1,445.0 599.3,444.4 599.4,444.9 599.6,444.8 599.8,447.4 599.9,447.7 600.1,445.4 600.2,444.5 600.4,444.9 600.5,445.8 600.7,446.2 600.8,447.0 601.0,444.9 601.1,444.9 601.3,444.9 601.4,445.9 601.6,447.2 601.7,445.4 601.9,445.3 602.0,445.7 602.2,445.3 602.3,445.6 602.5,445.5 602.7,444.8 602.8,444.5 603.0,445.7 603.1,445.5 603.3,445.2 603.4,448.4 603.6,446.8 603.7,446.3 603.9,449.5 604.0,445.6 604.2,446.6 604.3,448.2 604.5,449.4 604.6,448.0 604.8,446.7 604.9,447.7 605.1,447.7 605.3,446.1 605.4,445.9 605.6,448.5 605.7,444.6 605.9,446.0 606.0,445.9 606.2,447.5 606.4,447.2 606.5,446.2 606.7,446.7 606.8,448.6 607.0,446.0 607.1,445.0 607.3,446.8 607.4,445.2 607.6,446.3 607.8,446.4 607.9,445.8 608.1,444.1 608.2,446.6 608.4,446.9 608.5,445.9 608.7,445.4 608.9,448.7 609.0,445.7 609.2,445.7 609.3,446.1 609.5,445.7 609.6,445.7 609.8,446.3 610.0,447.7 610.1,444.7 610.3,446.9 610.4,446.0 610.6,443.7 610.7,444.8 610.9,446.0 611.0,445.7 611.2,444.9 611.3,445.0 611.5,446.9 611.6,445.8 611.8,445.5 611.9,446.6 612.1,444.4 612.2,444.6 612.4,444.8 612.5,445.9 612.7,445.0 612.9,445.2 613.0,446.2 613.1,448.4 613.3,446.9 613.5,446.5 613.6,446.0 613.8,446.7 613.9,445.7 614.1,446.0 614.2,446.7 614.4,445.9 614.5,447.0 614.7,448.4 614.8,447.1 615.0,445.9 615.1,446.7 615.3,446.1 615.4,447.1 615.6,446.2 615.8,445.6 615.9,445.7 616.1,444.7 616.2,445.8 616.4,445.7 616.5,445.9 616.7,446.2 616.9,447.4 617.0,446.6 617.2,445.8 617.3,445.4 617.5,444.7 617.6,445.7 617.8,443.9 617.9,443.7 618.1,445.4 618.3,445.6 618.4,444.4 618.6,446.2 618.7,445.6 618.9,445.2 619.0,446.8 619.2,444.1 619.4,444.7 619.5,445.1 619.7,447.2 619.8,443.5 620.0,445.1 620.2,446.4 620.3,443.9 620.5,445.2 620.6,445.2 620.8,444.5 620.9,444.8 621.1,446.3 621.3,444.6 621.4,444.5 621.6,444.7 621.7,442.3 621.9,445.2 622.0,442.6 622.2,444.4 622.4,446.8 622.5,446.5 622.7,445.0 622.8,445.3 623.0,444.2 623.1,443.5 623.3,444.0 623.5,444.1 623.6,442.7 623.8,444.2 623.9,443.1 624.1,443.5 624.3,442.9 624.4,442.8 624.6,444.3 624.7,443.8 624.9,441.4 625.0,443.6 625.2,442.9 625.4,444.5 625.5,443.5 625.7,443.5 625.8,442.7 626.0,443.7 626.1,443.1 626.3,444.9 626.5,443.9 626.6,443.2 626.8,444.8 626.9,444.4 627.1,443.1 627.2,443.2 627.4,441.2 627.6,444.7 627.7,442.7 627.9,443.7 628.0,444.8 628.2,444.0 628.4,444.0 628.5,442.9 628.7,442.8 628.8,444.8 629.0,443.7 629.1,446.9 629.3,444.9 629.5,442.5 629.6,444.4 629.8,443.9 629.9,445.9 630.1,445.1 630.2,443.2 630.4,442.6 630.5,442.9 630.7,444.7 630.8,444.7 631.0,444.3 631.2,444.0 631.3,443.9 631.5,444.0 631.6,442.6 631.8,444.4 631.9,444.3 632.1,443.9 632.2,442.9 632.4,443.4 632.6,442.7 632.7,445.9 632.9,445.1 633.0,443.7 633.2,443.8 633.3,443.0 633.5,444.2 633.6,443.4 633.8,442.8 634.0,443.3 634.1,441.4 634.3,442.6 634.4,443.7 634.6,442.7 634.7,442.7 634.9,442.7 635.0,444.3 635.2,441.8 635.3,442.8 635.5,442.4 635.7,442.4 635.8,442.0 636.0,440.8 636.1,443.0 636.3,442.1 636.4,443.2 636.6,443.0 636.8,443.1 636.9,444.5 637.1,442.1 637.2,443.7 637.4,443.5 637.6,442.8 637.7,443.7 637.9,445.0 638.0,443.3 638.2,444.5 638.3,443.8 638.5,444.4 638.7,444.5 638.8,444.7 639.0,443.2 639.1,445.6 639.3,444.7 639.4,444.3 639.6,444.4 639.7,448.0 639.9,447.1 640.0,445.4 640.2,445.1 640.4,446.1 640.5,444.0 640.7,446.9 640.8,443.2 641.0,444.2 641.1,445.9 641.3,446.2 641.4,443.6 641.6,446.5 641.8,446.0 641.9,449.1 642.1,447.0 642.2,444.6 642.4,447.3 642.5,446.1 642.7,448.9 642.9,445.7 643.0,445.6 643.2,446.3 643.3,445.8 643.5,445.3 643.7,445.8 643.8,445.9 644.0,445.3 644.1,446.4 644.3,446.1 644.4,446.0 644.6,445.4 644.8,445.7 644.9,444.7 645.1,445.7 645.2,444.4 645.4,444.1 645.5,445.1 645.7,444.2 645.8,443.9 646.0,445.1 646.2,447.3 646.3,443.1 646.5,444.7 646.6,443.4 646.8,444.8 646.9,444.8 647.1,444.6 647.2,442.5 647.4,444.9 647.5,444.5 647.7,444.4 647.9,444.6 648.0,444.8 648.2,445.8 648.3,444.4 648.5,445.9 648.6,443.7 648.8,444.5 648.9,443.8 649.1,444.4 649.2,446.0 649.4,447.1 649.6,444.7 649.7,444.3 649.9,444.4 650.0,446.1 650.2,444.7 650.3,444.1 650.5,445.7 650.6,444.9 650.8,444.9 651.0,444.7 651.1,446.2 651.3,445.4 651.4,442.0 651.6,446.9 651.7,444.7 651.9,443.9 652.1,446.1 652.2,444.5 652.4,445.0 652.5,445.2 652.7,443.8 652.9,447.3 653.0,444.6 653.2,442.8 653.3,444.5 653.5,441.8 653.6,447.0 653.8,444.4 654.0,444.8 654.1,444.3 654.3,445.3 654.4,445.3 654.6,445.1 654.7,444.1 654.9,443.4 655.0,445.8 655.2,446.0 655.3,444.6 655.5,444.7 655.7,444.8 655.8,444.6 656.0,446.8 656.1,445.2 656.3,445.6 656.4,445.4 656.6,443.9 656.7,443.8 656.9,445.4 657.1,444.4 657.2,445.4 657.4,445.7 657.5,448.3 657.7,446.8 657.8,446.1 658.0,445.4 658.1,445.3 658.3,446.0 658.5,445.4 658.6,446.3 658.8,446.2 658.9,444.6 659.1,446.5 659.2,444.4 659.4,445.4 659.5,448.2 659.7,446.1 659.8,446.9 660.0,445.9 660.2,447.4 660.3,445.3 660.5,446.5 660.6,445.6 660.8,444.1 660.9,444.5 661.1,444.6 661.3,445.9 661.4,445.9 661.6,446.6 661.7,445.2 661.9,446.2 662.1,445.1 662.2,445.2 662.4,445.8 662.5,445.3 662.7,448.3 662.8,445.1 663.0,445.4 663.2,444.8 663.3,446.6 663.5,446.6 663.6,444.6 663.8,445.2 663.9,445.6 664.1,444.0 664.2,445.4 664.4,446.2 664.5,446.3 664.7,444.7 664.9,445.3 665.0,445.2 665.2,446.1 665.3,444.7 665.5,448.6 665.6,444.7 665.8,445.9 665.9,446.3 666.1,445.9 666.3,447.7 666.4,446.1 666.6,446.8 666.7,445.9 666.9,445.1 667.0,445.6 667.2,445.9 667.3,445.8 667.5,446.3 667.7,445.7 667.8,445.4 668.0,445.6 668.1,445.6 668.3,442.7 668.4,445.2 668.6,445.6 668.7,445.9 668.9,445.3 669.0,446.0 669.2,445.4 669.4,445.4 669.5,445.2 669.7,444.9 669.8,446.2 670.0,447.0 670.1,446.0 670.3,444.9 670.5,446.0 670.6,445.6 670.8,447.2 670.9,442.9 671.1,446.3 671.3,445.7 671.4,446.8 671.6,446.0 671.7,443.0 671.9,446.2 672.0,445.9 672.2,445.9 672.4,445.3 672.5,444.8 672.7,445.8 672.8,446.1 673.0,446.0 673.1,443.4 673.3,445.1 673.4,446.5 673.6,446.2 673.8,446.7 673.9,446.1 674.1,445.7 674.2,447.0 674.4,445.7 674.5,444.7 674.7,446.1 674.8,446.3 675.0,445.7 675.1,448.4 675.3,446.5 675.5,445.9 675.6,445.4 675.8,446.9 675.9,445.6 676.1,446.2 676.2,446.5 676.4,446.2 676.5,447.0 676.7,445.7 676.8,447.0 677.0,445.6 677.2,446.9 677.3,449.4 677.5,447.5 677.6,448.7 677.8,447.0 677.9,446.0 678.1,446.7 678.2,447.6 678.4,447.0 678.6,446.0 678.7,447.4 678.9,446.7 679.0,448.5 679.2,446.8 679.3,446.8 679.5,446.7 679.7,447.3 679.8,449.1 680.0,447.3 680.1,447.8 680.3,447.3 680.5,445.9 680.6,447.5 680.8,447.6 680.9,447.6 681.1,447.0 681.2,447.0 681.4,447.5 681.5,447.1 681.7,445.2 681.9,446.5 682.0,446.9 682.1,447.3 682.3,448.7 682.5,447.7 682.6,447.2 682.8,447.6 682.9,447.0 683.0,445.2 683.2,447.4 683.4,447.5 683.5,447.0"/>
</g>
<g font-size="18" text-anchor="middle" fill="#000">
<text x="138" y="484.6">20</text>
<text x="296" y="484.6">40</text>
<text x="454" y="484.6">60</text>
<text x="612" y="484.6">80</text>
</g>
<text x="297.9" y="516.8" font-size="21.7" fill="#000">2 Theta (degree)</text>
<text transform="translate(17.8,296) rotate(-90)" font-size="21.7" fill="#000">Intensity (a.u.)</text>
<g fill="#0000ff" font-size="21.5" font-weight="bold">
<text x="513.7" y="256.6">Ag-MIL-</text>
<path transform="translate(593.7,256.6)" d="M5.1,0H8.25V-15.4H6C5.3,-13.6 3.4,-11.7 0.9,-10.7V-8.3C2.6,-8.8 4,-9.6 5.1,-10.6Z"/>
<text x="605.66" y="256.6">0</text>
<path transform="translate(617.62,256.6)" d="M5.1,0H8.25V-15.4H6C5.3,-13.6 3.4,-11.7 0.9,-10.7V-8.3C2.6,-8.8 4,-9.6 5.1,-10.6Z"/>
</g>
<g fill="#ff0000" font-size="21.5" font-weight="bold">
<text x="522.65" y="415.7">MIL-</text>
<path transform="translate(566.8,415.7)" d="M5.1,0H8.25V-15.4H6C5.3,-13.6 3.4,-11.7 0.9,-10.7V-8.3C2.6,-8.8 4,-9.6 5.1,-10.6Z"/>
<text x="578.76" y="415.7">0</text>
<path transform="translate(590.72,415.7)" d="M5.1,0H8.25V-15.4H6C5.3,-13.6 3.4,-11.7 0.9,-10.7V-8.3C2.6,-8.8 4,-9.6 5.1,-10.6Z"/>
</g>
</svg>
</body></html>
